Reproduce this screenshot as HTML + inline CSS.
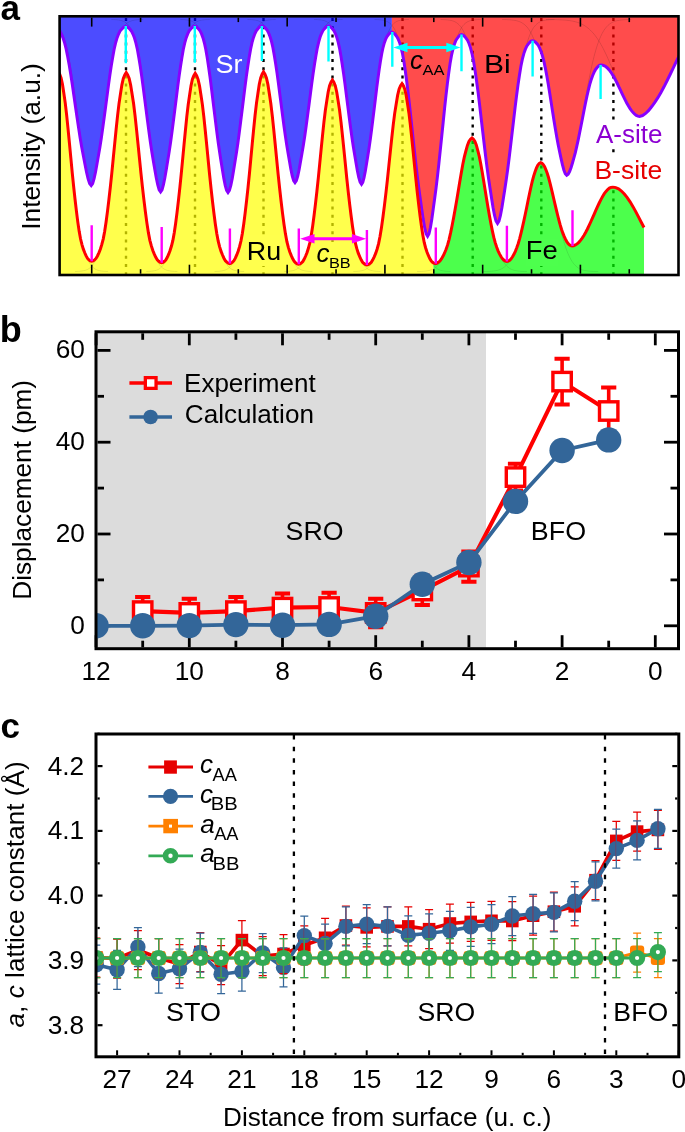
<!DOCTYPE html><html><head><meta charset="utf-8"><style>html,body{margin:0;padding:0;background:#fff;width:685px;height:1132px;overflow:hidden;position:relative}</style></head><body><svg width="685" height="1132" viewBox="0 0 685 1132" style="position:absolute;left:0;top:0;will-change:transform">
<defs><clipPath id="ca"><rect x="59.6" y="16.3" width="618.9" height="258.7"/></clipPath><clipPath id="cb"><rect x="96" y="331.8" width="582.5" height="316.9"/></clipPath><clipPath id="cc"><rect x="96" y="734" width="582.8" height="322.8"/></clipPath></defs>
<g clip-path="url(#ca)">
<line x1="126" y1="18" x2="126" y2="274" stroke="#000" stroke-width="2.4" stroke-dasharray="3 5.2"/>
<line x1="195" y1="18" x2="195" y2="274" stroke="#000" stroke-width="2.4" stroke-dasharray="3 5.2"/>
<line x1="263.5" y1="18" x2="263.5" y2="274" stroke="#000" stroke-width="2.4" stroke-dasharray="3 5.2"/>
<line x1="332.5" y1="18" x2="332.5" y2="274" stroke="#000" stroke-width="2.4" stroke-dasharray="3 5.2"/>
<line x1="402.5" y1="18" x2="402.5" y2="274" stroke="#000" stroke-width="2.4" stroke-dasharray="3 5.2"/>
<line x1="472.7" y1="18" x2="472.7" y2="274" stroke="#000" stroke-width="2.4" stroke-dasharray="3 5.2"/>
<line x1="541.3" y1="18" x2="541.3" y2="274" stroke="#000" stroke-width="2.4" stroke-dasharray="3 5.2"/>
<line x1="613.4" y1="18" x2="613.4" y2="274" stroke="#000" stroke-width="2.4" stroke-dasharray="3 5.2"/>
<path d="M18.00,196.00 L19.48,193.84 L20.96,188.62 L22.44,181.52 L23.92,172.98 L25.40,164.23 L26.88,155.29 L28.35,145.46 L29.83,134.77 L31.31,123.41 L32.79,111.94 L34.27,100.41 L35.75,88.70 L37.23,77.72 L38.71,67.63 L40.19,58.39 L41.67,50.04 L43.15,43.50 L44.62,38.37 L46.10,34.48 L47.58,31.48 L49.06,29.58 L50.54,27.99 L52.02,26.84 L53.50,26.40 L55.07,26.82 L56.64,27.90 L58.21,29.39 L59.78,31.16 L61.35,33.99 L62.92,37.64 L64.50,42.45 L66.07,48.59 L67.64,56.43 L69.21,65.10 L70.78,74.57 L72.35,84.88 L73.92,95.87 L75.49,106.69 L77.06,117.46 L78.63,128.13 L80.20,138.16 L81.78,147.39 L83.35,155.78 L84.92,163.99 L86.49,172.01 L88.06,178.67 L89.63,183.57 L91.20,185.60 L92.64,183.57 L94.08,178.67 L95.53,172.01 L96.97,163.99 L98.41,155.78 L99.85,147.39 L101.29,138.16 L102.73,128.13 L104.17,117.46 L105.62,106.69 L107.06,95.87 L108.50,84.88 L109.94,74.57 L111.38,65.10 L112.83,56.43 L114.27,48.59 L115.71,42.45 L117.15,37.64 L118.59,33.99 L120.03,31.16 L121.47,29.39 L122.92,27.90 L124.36,26.82 L125.80,26.40 L127.25,26.83 L128.70,27.95 L130.15,29.51 L131.60,31.35 L133.05,34.29 L134.50,38.08 L135.95,43.08 L137.40,49.47 L138.85,57.62 L140.30,66.63 L141.75,76.48 L143.20,87.19 L144.65,98.62 L146.10,109.87 L147.55,121.06 L149.00,132.15 L150.45,142.59 L151.90,152.18 L153.35,160.90 L154.80,169.44 L156.25,177.77 L157.70,184.70 L159.15,189.79 L160.60,191.90 L162.02,189.79 L163.44,184.69 L164.86,177.76 L166.28,169.41 L167.70,160.86 L169.12,152.13 L170.55,142.53 L171.97,132.08 L173.39,120.97 L174.81,109.77 L176.23,98.51 L177.65,87.06 L179.07,76.34 L180.49,66.48 L181.91,57.46 L183.33,49.29 L184.75,42.91 L186.17,37.90 L187.60,34.10 L189.02,31.16 L190.44,29.31 L191.86,27.76 L193.28,26.63 L194.70,26.20 L196.09,26.63 L197.47,27.76 L198.86,29.32 L200.25,31.18 L201.64,34.13 L203.02,37.95 L204.41,42.98 L205.80,49.39 L207.19,57.59 L208.57,66.65 L209.96,76.55 L211.35,87.32 L212.74,98.81 L214.12,110.12 L215.51,121.38 L216.90,132.53 L218.29,143.02 L219.68,152.66 L221.06,161.43 L222.45,170.01 L223.84,178.40 L225.22,185.36 L226.61,190.48 L228.00,192.60 L229.41,190.48 L230.82,185.34 L232.24,178.37 L233.65,169.97 L235.06,161.37 L236.47,152.59 L237.89,142.93 L239.30,132.42 L240.71,121.25 L242.12,109.97 L243.54,98.64 L244.95,87.13 L246.36,76.34 L247.77,66.43 L249.19,57.34 L250.60,49.13 L252.01,42.71 L253.42,37.67 L254.84,33.84 L256.25,30.89 L257.66,29.03 L259.07,27.47 L260.49,26.34 L261.90,25.90 L263.28,26.31 L264.66,27.37 L266.04,28.84 L267.42,30.59 L268.80,33.37 L270.17,36.96 L271.55,41.70 L272.93,47.74 L274.31,55.46 L275.69,63.99 L277.07,73.32 L278.45,83.46 L279.83,94.28 L281.21,104.93 L282.59,115.53 L283.97,126.03 L285.35,135.91 L286.73,144.99 L288.10,153.25 L289.48,161.33 L290.86,169.23 L292.24,175.78 L293.62,180.61 L295.00,182.60 L296.40,180.61 L297.79,175.78 L299.19,169.23 L300.58,161.34 L301.98,153.26 L303.38,145.01 L304.77,135.94 L306.17,126.06 L307.56,115.57 L308.96,104.98 L310.35,94.33 L311.75,83.52 L313.15,73.39 L314.54,64.07 L315.94,55.54 L317.33,47.82 L318.73,41.79 L320.12,37.05 L321.52,33.46 L322.92,30.69 L324.31,28.94 L325.71,27.47 L327.10,26.41 L328.50,26.00 L329.88,26.41 L331.25,27.49 L332.62,28.97 L334.00,30.73 L335.38,33.54 L336.75,37.17 L338.12,41.95 L339.50,48.05 L340.88,55.84 L342.25,64.46 L343.62,73.87 L345.00,84.11 L346.38,95.03 L347.75,105.79 L349.12,116.48 L350.50,127.09 L351.88,137.06 L353.25,146.23 L354.62,154.57 L356.00,162.73 L357.38,170.70 L358.75,177.31 L360.12,182.19 L361.50,184.20 L362.77,182.27 L364.03,177.58 L365.30,171.23 L366.57,163.57 L367.83,155.73 L369.10,147.72 L370.37,138.91 L371.63,129.32 L372.90,119.14 L374.17,108.86 L375.43,98.53 L376.70,88.03 L377.97,78.20 L379.23,69.15 L380.50,60.87 L381.77,53.38 L383.03,47.52 L384.30,42.93 L385.57,39.44 L386.83,36.75 L388.10,35.05 L389.37,33.63 L390.63,32.60 L391.90,32.20 L391.90,32.20 L391.9,0 L0,0 Z" fill="#0000ff" fill-opacity="0.7"/>
<path d="M391.90,32.20 L393.39,32.73 L394.88,34.12 L396.36,36.03 L397.85,38.31 L399.34,41.92 L400.82,46.61 L402.31,52.78 L403.80,60.64 L405.29,70.70 L406.77,81.82 L408.26,93.96 L409.75,107.17 L411.24,121.26 L412.73,135.13 L414.21,148.94 L415.70,162.62 L417.19,175.48 L418.68,187.31 L420.16,198.07 L421.65,208.60 L423.14,218.88 L424.62,227.41 L426.11,233.70 L427.60,236.30 L429.01,233.73 L430.43,227.52 L431.84,219.08 L433.25,208.91 L434.66,198.50 L436.08,187.87 L437.49,176.17 L438.90,163.45 L440.31,149.92 L441.73,136.27 L443.14,122.56 L444.55,108.62 L445.96,95.57 L447.38,83.56 L448.79,72.56 L450.20,62.62 L451.61,54.84 L453.02,48.75 L454.44,44.12 L455.85,40.54 L457.26,38.29 L458.68,36.40 L460.09,35.03 L461.50,34.50 L463.00,34.99 L464.50,36.27 L466.00,38.05 L467.50,40.15 L469.00,43.50 L470.50,47.83 L472.00,53.54 L473.50,60.83 L475.00,70.13 L476.50,80.42 L478.00,91.66 L479.50,103.89 L481.00,116.93 L482.50,129.77 L484.00,142.54 L485.50,155.20 L487.00,167.11 L488.50,178.06 L490.00,188.01 L491.50,197.76 L493.00,207.28 L494.50,215.18 L496.00,221.00 L497.50,223.40 L498.96,221.07 L500.43,215.45 L501.89,207.81 L503.35,198.60 L504.81,189.18 L506.27,179.55 L507.74,168.96 L509.20,157.44 L510.66,145.20 L512.12,132.84 L513.59,120.42 L515.05,107.81 L516.51,95.99 L517.98,85.12 L519.44,75.16 L520.90,66.16 L522.36,59.12 L523.83,53.60 L525.29,49.41 L526.75,46.17 L528.21,44.13 L529.68,42.42 L531.14,41.18 L532.60,40.70 L534.02,41.08 L535.44,42.11 L536.86,43.59 L538.28,45.43 L539.70,48.16 L541.12,51.63 L542.55,56.06 L543.97,61.54 L545.39,68.35 L546.81,75.82 L548.23,83.92 L549.65,92.64 L551.07,101.86 L552.49,110.94 L553.91,119.94 L555.33,128.80 L556.75,137.12 L558.18,144.76 L559.60,151.67 L561.02,158.33 L562.44,164.70 L563.86,169.94 L565.28,173.75 L566.70,175.30 L568.14,174.23 L569.58,171.55 L571.01,167.76 L572.45,163.05 L573.89,157.96 L575.33,152.52 L576.76,146.47 L578.20,139.86 L579.64,132.79 L581.08,125.55 L582.51,118.20 L583.95,110.73 L585.39,103.56 L586.83,96.81 L588.26,90.49 L589.70,84.68 L591.14,79.80 L592.58,75.71 L594.01,72.37 L595.45,69.68 L596.89,67.74 L598.33,66.24 L599.76,65.25 L601.20,64.90 L602.80,65.11 L604.39,65.74 L605.99,66.76 L607.58,68.15 L609.18,69.92 L610.78,72.03 L612.37,74.46 L613.97,77.18 L615.56,80.15 L617.16,83.30 L618.75,86.58 L620.35,89.94 L621.95,93.32 L623.54,96.64 L625.14,99.86 L626.73,102.93 L628.33,105.77 L629.92,108.35 L631.52,110.63 L633.12,112.58 L634.71,114.19 L636.31,115.38 L637.90,116.13 L639.50,116.40 L642.56,115.57 L645.62,113.45 L648.69,110.39 L651.75,106.54 L654.81,102.29 L657.88,97.66 L660.94,92.48 L664.00,86.81 L667.06,80.74 L670.12,74.49 L673.19,68.12 L676.25,61.64 L679.31,55.38 L682.38,49.42 L685.44,43.82 L688.50,38.63 L691.56,34.17 L694.62,30.37 L697.69,27.21 L700.75,24.63 L703.81,22.72 L706.88,21.26 L709.94,20.33 L713.00,20.00 L700,0 L391.9,0 Z" fill="#ff0000" fill-opacity="0.7"/>
<path d="M24.00,262.00 L25.43,261.58 L26.86,260.57 L28.29,259.13 L29.72,256.63 L31.15,253.45 L32.58,249.81 L34.00,245.25 L35.43,239.64 L36.86,231.94 L38.29,222.43 L39.72,211.46 L41.15,199.49 L42.58,186.66 L44.01,172.92 L45.44,158.24 L46.87,143.43 L48.30,129.06 L49.72,115.23 L51.15,103.19 L52.58,93.64 L54.01,84.34 L55.44,77.91 L56.87,74.25 L58.30,72.00 L59.69,74.24 L61.08,77.89 L62.47,84.30 L63.87,93.56 L65.26,103.08 L66.65,115.07 L68.04,128.85 L69.43,143.17 L70.83,157.93 L72.22,172.55 L73.61,186.24 L75.00,199.02 L76.39,210.94 L77.78,221.87 L79.17,231.35 L80.57,239.02 L81.96,244.61 L83.35,249.16 L84.74,252.78 L86.13,255.95 L87.53,258.44 L88.92,259.88 L90.31,260.88 L91.70,261.30 L93.14,260.88 L94.58,259.88 L96.01,258.45 L97.45,255.97 L98.89,252.81 L100.33,249.20 L101.76,244.67 L103.20,239.09 L104.64,231.44 L106.08,222.00 L107.51,211.10 L108.95,199.22 L110.39,186.47 L111.83,172.83 L113.26,158.25 L114.70,143.54 L116.14,129.27 L117.58,115.54 L119.01,103.58 L120.45,94.09 L121.89,84.86 L123.33,78.47 L124.76,74.84 L126.20,72.60 L127.68,74.85 L129.16,78.51 L130.64,84.95 L132.12,94.25 L133.60,103.81 L135.07,115.86 L136.55,129.69 L138.03,144.07 L139.51,158.89 L140.99,173.58 L142.47,187.32 L143.95,200.16 L145.43,212.13 L146.91,223.11 L148.39,232.62 L149.87,240.33 L151.35,245.94 L152.82,250.51 L154.30,254.14 L155.78,257.33 L157.26,259.83 L158.74,261.27 L160.22,262.28 L161.70,262.70 L163.10,262.28 L164.49,261.28 L165.89,259.84 L167.28,257.35 L168.68,254.18 L170.07,250.56 L171.47,246.01 L172.87,240.42 L174.26,232.75 L175.66,223.27 L177.05,212.34 L178.45,200.42 L179.85,187.64 L181.24,173.95 L182.64,159.33 L184.03,144.57 L185.43,130.25 L186.82,116.47 L188.22,104.48 L189.62,94.96 L191.01,85.70 L192.41,79.29 L193.80,75.64 L195.20,73.40 L196.64,75.65 L198.07,79.32 L199.51,85.76 L200.95,95.07 L202.39,104.62 L203.82,116.68 L205.26,130.52 L206.70,144.91 L208.14,159.73 L209.57,174.43 L211.01,188.18 L212.45,201.02 L213.89,213.00 L215.32,223.98 L216.76,233.50 L218.20,241.21 L219.64,246.83 L221.07,251.40 L222.51,255.04 L223.95,258.23 L225.39,260.73 L226.82,262.17 L228.26,263.18 L229.70,263.60 L231.11,263.17 L232.52,262.16 L233.92,260.71 L235.33,258.19 L236.74,254.97 L238.15,251.31 L239.56,246.70 L240.97,241.04 L242.38,233.27 L243.78,223.67 L245.19,212.61 L246.60,200.53 L248.01,187.58 L249.42,173.73 L250.82,158.92 L252.23,143.97 L253.64,129.47 L255.05,115.52 L256.46,103.37 L257.87,93.74 L259.27,84.35 L260.68,77.86 L262.09,74.17 L263.50,71.90 L264.96,74.18 L266.43,77.89 L267.89,84.40 L269.35,93.82 L270.81,103.49 L272.27,115.68 L273.74,129.68 L275.20,144.24 L276.66,159.23 L278.12,174.10 L279.59,188.01 L281.05,201.00 L282.51,213.12 L283.98,224.23 L285.44,233.86 L286.90,241.66 L288.36,247.34 L289.83,251.96 L291.29,255.64 L292.75,258.87 L294.21,261.40 L295.68,262.86 L297.14,263.87 L298.60,264.30 L300.01,263.89 L301.42,262.92 L302.83,261.52 L304.23,259.09 L305.64,256.00 L307.05,252.48 L308.46,248.05 L309.87,242.61 L311.27,235.14 L312.68,225.91 L314.09,215.27 L315.50,203.67 L316.91,191.22 L318.32,177.90 L319.73,163.66 L321.13,149.29 L322.54,135.35 L323.95,121.94 L325.36,110.26 L326.77,100.99 L328.17,91.97 L329.58,85.73 L330.99,82.18 L332.40,80.00 L333.84,82.19 L335.27,85.76 L336.71,92.02 L338.15,101.07 L339.59,110.37 L341.02,122.09 L342.46,135.56 L343.90,149.55 L345.34,163.97 L346.77,178.27 L348.21,191.64 L349.65,204.13 L351.09,215.79 L352.52,226.47 L353.96,235.73 L355.40,243.23 L356.84,248.69 L358.27,253.14 L359.71,256.67 L361.15,259.77 L362.59,262.21 L364.02,263.61 L365.46,264.59 L366.90,265.00 L368.36,264.60 L369.82,263.64 L371.29,262.26 L372.75,259.88 L374.21,256.84 L375.67,253.37 L377.14,249.01 L378.60,243.65 L380.06,236.30 L381.52,227.22 L382.99,216.75 L384.45,205.32 L385.91,193.07 L387.38,179.96 L388.84,165.94 L390.30,151.80 L391.76,138.08 L393.23,124.88 L394.69,113.38 L396.15,104.26 L397.61,95.39 L399.07,89.24 L400.54,85.75 L402.00,83.60 L403.39,85.73 L404.77,89.20 L406.16,95.29 L407.55,104.10 L408.94,113.15 L410.32,124.56 L411.71,137.66 L413.10,151.27 L414.49,165.31 L415.88,179.21 L417.26,192.22 L418.65,204.38 L420.04,215.72 L421.43,226.11 L422.81,235.12 L424.20,242.41 L425.59,247.73 L426.98,252.06 L428.36,255.50 L429.75,258.52 L431.14,260.88 L432.53,262.25 L433.40,262.85 L433.4,300 L0,300 Z" fill="#ffff00" fill-opacity="0.7"/>
<path d="M433.40,262.85 L433.91,263.20 L435.30,263.60 L436.83,263.26 L438.36,262.39 L439.89,261.07 L441.42,258.97 L442.95,256.32 L444.48,253.25 L446.00,249.53 L447.53,245.13 L449.06,239.53 L450.59,232.92 L452.12,225.49 L453.65,217.51 L455.18,209.09 L456.71,200.24 L458.24,190.96 L459.77,181.71 L461.30,172.80 L462.82,164.32 L464.35,156.92 L465.88,151.00 L467.41,145.41 L468.94,141.52 L470.47,139.28 L472.00,138.00 L473.45,139.24 L474.91,141.42 L476.36,145.21 L477.82,150.66 L479.27,156.44 L480.73,163.66 L482.18,171.93 L483.63,180.64 L485.09,189.68 L486.54,198.76 L488.00,207.43 L489.45,215.70 L490.90,223.54 L492.36,230.85 L493.81,237.39 L495.27,242.93 L496.72,247.32 L498.17,251.03 L499.63,254.11 L501.08,256.76 L502.54,258.85 L503.99,260.19 L505.45,261.06 L506.90,261.40 L508.31,261.09 L509.72,260.22 L511.12,258.85 L512.53,256.83 L513.94,254.27 L515.35,251.28 L516.76,247.75 L518.17,243.69 L519.58,238.86 L520.98,233.37 L522.39,227.38 L523.80,221.06 L525.21,214.50 L526.62,207.74 L528.02,200.82 L529.43,194.01 L530.84,187.52 L532.25,181.43 L533.66,176.10 L535.07,171.78 L536.48,167.87 L537.88,165.12 L539.29,163.52 L540.70,162.70 L542.00,163.30 L543.31,164.58 L544.61,166.75 L545.92,169.81 L547.22,173.28 L548.53,177.53 L549.83,182.40 L551.13,187.62 L552.44,193.13 L553.74,198.78 L555.05,204.38 L556.35,209.89 L557.65,215.24 L558.96,220.37 L560.26,225.13 L561.57,229.42 L562.87,233.14 L564.17,236.41 L565.48,239.21 L566.78,241.59 L568.09,243.48 L569.39,244.79 L570.70,245.61 L572.00,245.90 L573.70,245.67 L575.40,244.99 L577.10,243.89 L578.80,242.35 L580.50,240.40 L582.20,238.11 L583.90,235.47 L585.60,232.51 L587.30,229.24 L589.00,225.71 L590.70,222.00 L592.40,218.18 L594.10,214.31 L595.80,210.45 L597.50,206.65 L599.20,203.00 L600.90,199.58 L602.60,196.45 L604.30,193.70 L606.00,191.42 L607.70,189.51 L609.40,188.15 L611.10,187.33 L612.80,187.00 L615.68,187.60 L618.57,188.87 L621.45,191.03 L624.33,194.08 L627.22,197.55 L630.10,201.79 L632.98,206.63 L635.87,211.84 L638.75,217.33 L641.63,222.97 L644.00,227.56 L644,300 L433.4,300 Z" fill="#00ff00" fill-opacity="0.7"/>
<clipPath id="clA"><path d="M18.00,196.00 L19.48,193.84 L20.96,188.62 L22.44,181.52 L23.92,172.98 L25.40,164.23 L26.88,155.29 L28.35,145.46 L29.83,134.77 L31.31,123.41 L32.79,111.94 L34.27,100.41 L35.75,88.70 L37.23,77.72 L38.71,67.63 L40.19,58.39 L41.67,50.04 L43.15,43.50 L44.62,38.37 L46.10,34.48 L47.58,31.48 L49.06,29.58 L50.54,27.99 L52.02,26.84 L53.50,26.40 L55.07,26.82 L56.64,27.90 L58.21,29.39 L59.78,31.16 L61.35,33.99 L62.92,37.64 L64.50,42.45 L66.07,48.59 L67.64,56.43 L69.21,65.10 L70.78,74.57 L72.35,84.88 L73.92,95.87 L75.49,106.69 L77.06,117.46 L78.63,128.13 L80.20,138.16 L81.78,147.39 L83.35,155.78 L84.92,163.99 L86.49,172.01 L88.06,178.67 L89.63,183.57 L91.20,185.60 L92.64,183.57 L94.08,178.67 L95.53,172.01 L96.97,163.99 L98.41,155.78 L99.85,147.39 L101.29,138.16 L102.73,128.13 L104.17,117.46 L105.62,106.69 L107.06,95.87 L108.50,84.88 L109.94,74.57 L111.38,65.10 L112.83,56.43 L114.27,48.59 L115.71,42.45 L117.15,37.64 L118.59,33.99 L120.03,31.16 L121.47,29.39 L122.92,27.90 L124.36,26.82 L125.80,26.40 L127.25,26.83 L128.70,27.95 L130.15,29.51 L131.60,31.35 L133.05,34.29 L134.50,38.08 L135.95,43.08 L137.40,49.47 L138.85,57.62 L140.30,66.63 L141.75,76.48 L143.20,87.19 L144.65,98.62 L146.10,109.87 L147.55,121.06 L149.00,132.15 L150.45,142.59 L151.90,152.18 L153.35,160.90 L154.80,169.44 L156.25,177.77 L157.70,184.70 L159.15,189.79 L160.60,191.90 L162.02,189.79 L163.44,184.69 L164.86,177.76 L166.28,169.41 L167.70,160.86 L169.12,152.13 L170.55,142.53 L171.97,132.08 L173.39,120.97 L174.81,109.77 L176.23,98.51 L177.65,87.06 L179.07,76.34 L180.49,66.48 L181.91,57.46 L183.33,49.29 L184.75,42.91 L186.17,37.90 L187.60,34.10 L189.02,31.16 L190.44,29.31 L191.86,27.76 L193.28,26.63 L194.70,26.20 L196.09,26.63 L197.47,27.76 L198.86,29.32 L200.25,31.18 L201.64,34.13 L203.02,37.95 L204.41,42.98 L205.80,49.39 L207.19,57.59 L208.57,66.65 L209.96,76.55 L211.35,87.32 L212.74,98.81 L214.12,110.12 L215.51,121.38 L216.90,132.53 L218.29,143.02 L219.68,152.66 L221.06,161.43 L222.45,170.01 L223.84,178.40 L225.22,185.36 L226.61,190.48 L228.00,192.60 L229.41,190.48 L230.82,185.34 L232.24,178.37 L233.65,169.97 L235.06,161.37 L236.47,152.59 L237.89,142.93 L239.30,132.42 L240.71,121.25 L242.12,109.97 L243.54,98.64 L244.95,87.13 L246.36,76.34 L247.77,66.43 L249.19,57.34 L250.60,49.13 L252.01,42.71 L253.42,37.67 L254.84,33.84 L256.25,30.89 L257.66,29.03 L259.07,27.47 L260.49,26.34 L261.90,25.90 L263.28,26.31 L264.66,27.37 L266.04,28.84 L267.42,30.59 L268.80,33.37 L270.17,36.96 L271.55,41.70 L272.93,47.74 L274.31,55.46 L275.69,63.99 L277.07,73.32 L278.45,83.46 L279.83,94.28 L281.21,104.93 L282.59,115.53 L283.97,126.03 L285.35,135.91 L286.73,144.99 L288.10,153.25 L289.48,161.33 L290.86,169.23 L292.24,175.78 L293.62,180.61 L295.00,182.60 L296.40,180.61 L297.79,175.78 L299.19,169.23 L300.58,161.34 L301.98,153.26 L303.38,145.01 L304.77,135.94 L306.17,126.06 L307.56,115.57 L308.96,104.98 L310.35,94.33 L311.75,83.52 L313.15,73.39 L314.54,64.07 L315.94,55.54 L317.33,47.82 L318.73,41.79 L320.12,37.05 L321.52,33.46 L322.92,30.69 L324.31,28.94 L325.71,27.47 L327.10,26.41 L328.50,26.00 L329.88,26.41 L331.25,27.49 L332.62,28.97 L334.00,30.73 L335.38,33.54 L336.75,37.17 L338.12,41.95 L339.50,48.05 L340.88,55.84 L342.25,64.46 L343.62,73.87 L345.00,84.11 L346.38,95.03 L347.75,105.79 L349.12,116.48 L350.50,127.09 L351.88,137.06 L353.25,146.23 L354.62,154.57 L356.00,162.73 L357.38,170.70 L358.75,177.31 L360.12,182.19 L361.50,184.20 L362.77,182.27 L364.03,177.58 L365.30,171.23 L366.57,163.57 L367.83,155.73 L369.10,147.72 L370.37,138.91 L371.63,129.32 L372.90,119.14 L374.17,108.86 L375.43,98.53 L376.70,88.03 L377.97,78.20 L379.23,69.15 L380.50,60.87 L381.77,53.38 L383.03,47.52 L384.30,42.93 L385.57,39.44 L386.83,36.75 L388.10,35.05 L389.37,33.63 L390.63,32.60 L391.90,32.20 L393.39,32.73 L394.88,34.12 L396.36,36.03 L397.85,38.31 L399.34,41.92 L400.82,46.61 L402.31,52.78 L403.80,60.64 L405.29,70.70 L406.77,81.82 L408.26,93.96 L409.75,107.17 L411.24,121.26 L412.73,135.13 L414.21,148.94 L415.70,162.62 L417.19,175.48 L418.68,187.31 L420.16,198.07 L421.65,208.60 L423.14,218.88 L424.62,227.41 L426.11,233.70 L427.60,236.30 L429.01,233.73 L430.43,227.52 L431.84,219.08 L433.25,208.91 L434.66,198.50 L436.08,187.87 L437.49,176.17 L438.90,163.45 L440.31,149.92 L441.73,136.27 L443.14,122.56 L444.55,108.62 L445.96,95.57 L447.38,83.56 L448.79,72.56 L450.20,62.62 L451.61,54.84 L453.02,48.75 L454.44,44.12 L455.85,40.54 L457.26,38.29 L458.68,36.40 L460.09,35.03 L461.50,34.50 L463.00,34.99 L464.50,36.27 L466.00,38.05 L467.50,40.15 L469.00,43.50 L470.50,47.83 L472.00,53.54 L473.50,60.83 L475.00,70.13 L476.50,80.42 L478.00,91.66 L479.50,103.89 L481.00,116.93 L482.50,129.77 L484.00,142.54 L485.50,155.20 L487.00,167.11 L488.50,178.06 L490.00,188.01 L491.50,197.76 L493.00,207.28 L494.50,215.18 L496.00,221.00 L497.50,223.40 L498.96,221.07 L500.43,215.45 L501.89,207.81 L503.35,198.60 L504.81,189.18 L506.27,179.55 L507.74,168.96 L509.20,157.44 L510.66,145.20 L512.12,132.84 L513.59,120.42 L515.05,107.81 L516.51,95.99 L517.98,85.12 L519.44,75.16 L520.90,66.16 L522.36,59.12 L523.83,53.60 L525.29,49.41 L526.75,46.17 L528.21,44.13 L529.68,42.42 L531.14,41.18 L532.60,40.70 L534.02,41.08 L535.44,42.11 L536.86,43.59 L538.28,45.43 L539.70,48.16 L541.12,51.63 L542.55,56.06 L543.97,61.54 L545.39,68.35 L546.81,75.82 L548.23,83.92 L549.65,92.64 L551.07,101.86 L552.49,110.94 L553.91,119.94 L555.33,128.80 L556.75,137.12 L558.18,144.76 L559.60,151.67 L561.02,158.33 L562.44,164.70 L563.86,169.94 L565.28,173.75 L566.70,175.30 L568.14,174.23 L569.58,171.55 L571.01,167.76 L572.45,163.05 L573.89,157.96 L575.33,152.52 L576.76,146.47 L578.20,139.86 L579.64,132.79 L581.08,125.55 L582.51,118.20 L583.95,110.73 L585.39,103.56 L586.83,96.81 L588.26,90.49 L589.70,84.68 L591.14,79.80 L592.58,75.71 L594.01,72.37 L595.45,69.68 L596.89,67.74 L598.33,66.24 L599.76,65.25 L601.20,64.90 L602.80,65.11 L604.39,65.74 L605.99,66.76 L607.58,68.15 L609.18,69.92 L610.78,72.03 L612.37,74.46 L613.97,77.18 L615.56,80.15 L617.16,83.30 L618.75,86.58 L620.35,89.94 L621.95,93.32 L623.54,96.64 L625.14,99.86 L626.73,102.93 L628.33,105.77 L629.92,108.35 L631.52,110.63 L633.12,112.58 L634.71,114.19 L636.31,115.38 L637.90,116.13 L639.50,116.40 L642.56,115.57 L645.62,113.45 L648.69,110.39 L651.75,106.54 L654.81,102.29 L657.88,97.66 L660.94,92.48 L664.00,86.81 L667.06,80.74 L670.12,74.49 L673.19,68.12 L676.25,61.64 L679.31,55.38 L682.38,49.42 L685.44,43.82 L688.50,38.63 L691.56,34.17 L694.62,30.37 L697.69,27.21 L700.75,24.63 L703.81,22.72 L706.88,21.26 L709.94,20.33 L713.00,20.00 L700,0 L0,0 Z"/></clipPath>
<clipPath id="clB"><path d="M24.00,262.00 L25.43,261.58 L26.86,260.57 L28.29,259.13 L29.72,256.63 L31.15,253.45 L32.58,249.81 L34.00,245.25 L35.43,239.64 L36.86,231.94 L38.29,222.43 L39.72,211.46 L41.15,199.49 L42.58,186.66 L44.01,172.92 L45.44,158.24 L46.87,143.43 L48.30,129.06 L49.72,115.23 L51.15,103.19 L52.58,93.64 L54.01,84.34 L55.44,77.91 L56.87,74.25 L58.30,72.00 L59.69,74.24 L61.08,77.89 L62.47,84.30 L63.87,93.56 L65.26,103.08 L66.65,115.07 L68.04,128.85 L69.43,143.17 L70.83,157.93 L72.22,172.55 L73.61,186.24 L75.00,199.02 L76.39,210.94 L77.78,221.87 L79.17,231.35 L80.57,239.02 L81.96,244.61 L83.35,249.16 L84.74,252.78 L86.13,255.95 L87.53,258.44 L88.92,259.88 L90.31,260.88 L91.70,261.30 L93.14,260.88 L94.58,259.88 L96.01,258.45 L97.45,255.97 L98.89,252.81 L100.33,249.20 L101.76,244.67 L103.20,239.09 L104.64,231.44 L106.08,222.00 L107.51,211.10 L108.95,199.22 L110.39,186.47 L111.83,172.83 L113.26,158.25 L114.70,143.54 L116.14,129.27 L117.58,115.54 L119.01,103.58 L120.45,94.09 L121.89,84.86 L123.33,78.47 L124.76,74.84 L126.20,72.60 L127.68,74.85 L129.16,78.51 L130.64,84.95 L132.12,94.25 L133.60,103.81 L135.07,115.86 L136.55,129.69 L138.03,144.07 L139.51,158.89 L140.99,173.58 L142.47,187.32 L143.95,200.16 L145.43,212.13 L146.91,223.11 L148.39,232.62 L149.87,240.33 L151.35,245.94 L152.82,250.51 L154.30,254.14 L155.78,257.33 L157.26,259.83 L158.74,261.27 L160.22,262.28 L161.70,262.70 L163.10,262.28 L164.49,261.28 L165.89,259.84 L167.28,257.35 L168.68,254.18 L170.07,250.56 L171.47,246.01 L172.87,240.42 L174.26,232.75 L175.66,223.27 L177.05,212.34 L178.45,200.42 L179.85,187.64 L181.24,173.95 L182.64,159.33 L184.03,144.57 L185.43,130.25 L186.82,116.47 L188.22,104.48 L189.62,94.96 L191.01,85.70 L192.41,79.29 L193.80,75.64 L195.20,73.40 L196.64,75.65 L198.07,79.32 L199.51,85.76 L200.95,95.07 L202.39,104.62 L203.82,116.68 L205.26,130.52 L206.70,144.91 L208.14,159.73 L209.57,174.43 L211.01,188.18 L212.45,201.02 L213.89,213.00 L215.32,223.98 L216.76,233.50 L218.20,241.21 L219.64,246.83 L221.07,251.40 L222.51,255.04 L223.95,258.23 L225.39,260.73 L226.82,262.17 L228.26,263.18 L229.70,263.60 L231.11,263.17 L232.52,262.16 L233.92,260.71 L235.33,258.19 L236.74,254.97 L238.15,251.31 L239.56,246.70 L240.97,241.04 L242.38,233.27 L243.78,223.67 L245.19,212.61 L246.60,200.53 L248.01,187.58 L249.42,173.73 L250.82,158.92 L252.23,143.97 L253.64,129.47 L255.05,115.52 L256.46,103.37 L257.87,93.74 L259.27,84.35 L260.68,77.86 L262.09,74.17 L263.50,71.90 L264.96,74.18 L266.43,77.89 L267.89,84.40 L269.35,93.82 L270.81,103.49 L272.27,115.68 L273.74,129.68 L275.20,144.24 L276.66,159.23 L278.12,174.10 L279.59,188.01 L281.05,201.00 L282.51,213.12 L283.98,224.23 L285.44,233.86 L286.90,241.66 L288.36,247.34 L289.83,251.96 L291.29,255.64 L292.75,258.87 L294.21,261.40 L295.68,262.86 L297.14,263.87 L298.60,264.30 L300.01,263.89 L301.42,262.92 L302.83,261.52 L304.23,259.09 L305.64,256.00 L307.05,252.48 L308.46,248.05 L309.87,242.61 L311.27,235.14 L312.68,225.91 L314.09,215.27 L315.50,203.67 L316.91,191.22 L318.32,177.90 L319.73,163.66 L321.13,149.29 L322.54,135.35 L323.95,121.94 L325.36,110.26 L326.77,100.99 L328.17,91.97 L329.58,85.73 L330.99,82.18 L332.40,80.00 L333.84,82.19 L335.27,85.76 L336.71,92.02 L338.15,101.07 L339.59,110.37 L341.02,122.09 L342.46,135.56 L343.90,149.55 L345.34,163.97 L346.77,178.27 L348.21,191.64 L349.65,204.13 L351.09,215.79 L352.52,226.47 L353.96,235.73 L355.40,243.23 L356.84,248.69 L358.27,253.14 L359.71,256.67 L361.15,259.77 L362.59,262.21 L364.02,263.61 L365.46,264.59 L366.90,265.00 L368.36,264.60 L369.82,263.64 L371.29,262.26 L372.75,259.88 L374.21,256.84 L375.67,253.37 L377.14,249.01 L378.60,243.65 L380.06,236.30 L381.52,227.22 L382.99,216.75 L384.45,205.32 L385.91,193.07 L387.38,179.96 L388.84,165.94 L390.30,151.80 L391.76,138.08 L393.23,124.88 L394.69,113.38 L396.15,104.26 L397.61,95.39 L399.07,89.24 L400.54,85.75 L402.00,83.60 L403.39,85.73 L404.77,89.20 L406.16,95.29 L407.55,104.10 L408.94,113.15 L410.32,124.56 L411.71,137.66 L413.10,151.27 L414.49,165.31 L415.88,179.21 L417.26,192.22 L418.65,204.38 L420.04,215.72 L421.43,226.11 L422.81,235.12 L424.20,242.41 L425.59,247.73 L426.98,252.06 L428.36,255.50 L429.75,258.52 L431.14,260.88 L432.53,262.25 L433.91,263.20 L435.30,263.60 L436.83,263.26 L438.36,262.39 L439.89,261.07 L441.42,258.97 L442.95,256.32 L444.48,253.25 L446.00,249.53 L447.53,245.13 L449.06,239.53 L450.59,232.92 L452.12,225.49 L453.65,217.51 L455.18,209.09 L456.71,200.24 L458.24,190.96 L459.77,181.71 L461.30,172.80 L462.82,164.32 L464.35,156.92 L465.88,151.00 L467.41,145.41 L468.94,141.52 L470.47,139.28 L472.00,138.00 L473.45,139.24 L474.91,141.42 L476.36,145.21 L477.82,150.66 L479.27,156.44 L480.73,163.66 L482.18,171.93 L483.63,180.64 L485.09,189.68 L486.54,198.76 L488.00,207.43 L489.45,215.70 L490.90,223.54 L492.36,230.85 L493.81,237.39 L495.27,242.93 L496.72,247.32 L498.17,251.03 L499.63,254.11 L501.08,256.76 L502.54,258.85 L503.99,260.19 L505.45,261.06 L506.90,261.40 L508.31,261.09 L509.72,260.22 L511.12,258.85 L512.53,256.83 L513.94,254.27 L515.35,251.28 L516.76,247.75 L518.17,243.69 L519.58,238.86 L520.98,233.37 L522.39,227.38 L523.80,221.06 L525.21,214.50 L526.62,207.74 L528.02,200.82 L529.43,194.01 L530.84,187.52 L532.25,181.43 L533.66,176.10 L535.07,171.78 L536.48,167.87 L537.88,165.12 L539.29,163.52 L540.70,162.70 L542.00,163.30 L543.31,164.58 L544.61,166.75 L545.92,169.81 L547.22,173.28 L548.53,177.53 L549.83,182.40 L551.13,187.62 L552.44,193.13 L553.74,198.78 L555.05,204.38 L556.35,209.89 L557.65,215.24 L558.96,220.37 L560.26,225.13 L561.57,229.42 L562.87,233.14 L564.17,236.41 L565.48,239.21 L566.78,241.59 L568.09,243.48 L569.39,244.79 L570.70,245.61 L572.00,245.90 L573.70,245.67 L575.40,244.99 L577.10,243.89 L578.80,242.35 L580.50,240.40 L582.20,238.11 L583.90,235.47 L585.60,232.51 L587.30,229.24 L589.00,225.71 L590.70,222.00 L592.40,218.18 L594.10,214.31 L595.80,210.45 L597.50,206.65 L599.20,203.00 L600.90,199.58 L602.60,196.45 L604.30,193.70 L606.00,191.42 L607.70,189.51 L609.40,188.15 L611.10,187.33 L612.80,187.00 L615.68,187.60 L618.57,188.87 L621.45,191.03 L624.33,194.08 L627.22,197.55 L630.10,201.79 L632.98,206.63 L635.87,211.84 L638.75,217.33 L641.63,222.97 L644.00,227.56 L644,300 L0,300 Z"/></clipPath>
<g clip-path="url(#clA)">
<path d="M39.25,19.56 L39.90,19.57 L40.55,19.58 L41.20,19.60 L41.85,19.62 L42.50,19.65 L43.15,19.68 L43.80,19.71 L44.45,19.75 L45.10,19.80 L45.75,19.86 L46.40,19.93 L47.04,20.01 L47.69,20.11 L48.34,20.22 L48.99,20.34 L49.64,20.49 L50.29,20.66 L50.94,20.86 L51.59,21.09 L52.24,21.35 L52.89,21.64 L53.54,21.98 L54.19,22.36 L54.84,22.80 L55.49,23.29 L56.14,23.84 L56.79,24.46 L57.43,25.16 L58.08,25.93 L58.73,26.80 L59.38,27.76 L60.03,28.82 L60.68,30.00 L61.33,31.29 L61.98,32.71 L62.63,34.27 L63.28,35.97 L63.93,37.81 L64.58,39.81 L65.23,41.98 L65.88,44.31 L66.53,46.82 L67.17,49.50 L67.82,52.37 L68.47,55.42 L69.12,58.66 L69.77,62.08 L70.42,65.68 L71.07,69.47 L71.72,73.42 L72.37,77.55 L73.02,81.84 L73.67,86.28 L74.32,90.85 L74.97,95.55 L75.62,100.35 L76.27,105.24 L76.91,110.20 L77.56,115.21 L78.21,120.24 L78.86,125.28 L79.51,130.28 L80.16,135.24 L80.81,140.11 L81.46,144.88 L82.11,149.51 L82.76,153.97 L83.41,158.24 L84.06,162.29 L84.71,166.08 L85.36,169.61 L86.01,172.83 L86.65,175.73 L87.30,178.29 L87.95,180.49 L88.60,182.31 L89.25,183.74 L89.90,184.77 L90.55,185.39 L91.20,185.60 L91.85,185.39 L92.50,184.77 L93.15,183.74 L93.80,182.31 L94.45,180.49 L95.10,178.29 L95.75,175.73 L96.39,172.83 L97.04,169.61 L97.69,166.08 L98.34,162.29 L98.99,158.24 L99.64,153.97 L100.29,149.51 L100.94,144.88 L101.59,140.11 L102.24,135.24 L102.89,130.28 L103.54,125.28 L104.19,120.24 L104.84,115.21 L105.49,110.20 L106.13,105.24 L106.78,100.35 L107.43,95.55 L108.08,90.85 L108.73,86.28 L109.38,81.84 L110.03,77.55 L110.68,73.42 L111.33,69.47 L111.98,65.68 L112.63,62.08 L113.28,58.66 L113.93,55.42 L114.58,52.37 L115.23,49.50 L115.87,46.82 L116.52,44.31 L117.17,41.98 L117.82,39.81 L118.47,37.81 L119.12,35.97 L119.77,34.27 L120.42,32.71 L121.07,31.29 L121.72,30.00 L122.37,28.82 L123.02,27.76 L123.67,26.80 L124.32,25.93 L124.97,25.16 L125.61,24.46 L126.26,23.84 L126.91,23.29 L127.56,22.80 L128.21,22.36 L128.86,21.98 L129.51,21.64 L130.16,21.35 L130.81,21.09 L131.46,20.86 L132.11,20.66 L132.76,20.49 L133.41,20.34 L134.06,20.22 L134.71,20.11 L135.36,20.01 L136.00,19.93 L136.65,19.86 L137.30,19.80 L137.95,19.75 L138.60,19.71 L139.25,19.68 L139.90,19.65 L140.55,19.62 L141.20,19.60 L141.85,19.58 L142.50,19.57 L143.15,19.56" fill="none" stroke="#000" stroke-opacity="0.13" stroke-width="1"/>
<path d="M111.42,19.56 L112.04,19.57 L112.65,19.59 L113.27,19.60 L113.88,19.63 L114.50,19.65 L115.11,19.68 L115.73,19.72 L116.34,19.76 L116.96,19.82 L117.57,19.88 L118.18,19.95 L118.80,20.03 L119.41,20.13 L120.03,20.24 L120.64,20.38 L121.26,20.53 L121.87,20.71 L122.49,20.91 L123.10,21.15 L123.72,21.42 L124.33,21.72 L124.95,22.07 L125.56,22.47 L126.18,22.92 L126.79,23.43 L127.41,24.00 L128.02,24.65 L128.64,25.37 L129.25,26.18 L129.86,27.07 L130.48,28.07 L131.09,29.18 L131.71,30.40 L132.32,31.74 L132.94,33.22 L133.55,34.83 L134.17,36.59 L134.78,38.51 L135.40,40.59 L136.01,42.83 L136.63,45.25 L137.24,47.86 L137.86,50.64 L138.47,53.62 L139.09,56.78 L139.70,60.14 L140.31,63.69 L140.93,67.43 L141.54,71.36 L142.16,75.47 L142.77,79.75 L143.39,84.20 L144.00,88.81 L144.62,93.56 L145.23,98.43 L145.85,103.42 L146.46,108.49 L147.08,113.64 L147.69,118.84 L148.31,124.07 L148.92,129.29 L149.54,134.49 L150.15,139.63 L150.76,144.69 L151.38,149.63 L151.99,154.44 L152.61,159.07 L153.22,163.50 L153.84,167.70 L154.45,171.64 L155.07,175.30 L155.68,178.65 L156.30,181.66 L156.91,184.31 L157.53,186.60 L158.14,188.49 L158.76,189.97 L159.37,191.04 L159.99,191.68 L160.60,191.90 L161.21,191.68 L161.83,191.04 L162.44,189.97 L163.06,188.49 L163.67,186.60 L164.29,184.31 L164.90,181.66 L165.52,178.65 L166.13,175.30 L166.75,171.64 L167.36,167.70 L167.98,163.50 L168.59,159.07 L169.21,154.44 L169.82,149.63 L170.44,144.69 L171.05,139.63 L171.66,134.49 L172.28,129.29 L172.89,124.07 L173.51,118.84 L174.12,113.64 L174.74,108.49 L175.35,103.42 L175.97,98.43 L176.58,93.56 L177.20,88.81 L177.81,84.20 L178.43,79.75 L179.04,75.47 L179.66,71.36 L180.27,67.43 L180.89,63.69 L181.50,60.14 L182.11,56.78 L182.73,53.62 L183.34,50.64 L183.96,47.86 L184.57,45.25 L185.19,42.83 L185.80,40.59 L186.42,38.51 L187.03,36.59 L187.65,34.83 L188.26,33.22 L188.88,31.74 L189.49,30.40 L190.11,29.18 L190.72,28.07 L191.34,27.07 L191.95,26.18 L192.56,25.37 L193.18,24.65 L193.79,24.00 L194.41,23.43 L195.02,22.92 L195.64,22.47 L196.25,22.07 L196.87,21.72 L197.48,21.42 L198.10,21.15 L198.71,20.91 L199.33,20.71 L199.94,20.53 L200.56,20.38 L201.17,20.24 L201.79,20.13 L202.40,20.03 L203.02,19.95 L203.63,19.88 L204.24,19.82 L204.86,19.76 L205.47,19.72 L206.09,19.68 L206.70,19.65 L207.32,19.63 L207.93,19.60 L208.55,19.59 L209.16,19.57 L209.78,19.56" fill="none" stroke="#000" stroke-opacity="0.13" stroke-width="1"/>
<path d="M180.29,19.56 L180.89,19.57 L181.48,19.59 L182.08,19.60 L182.68,19.63 L183.27,19.65 L183.87,19.68 L184.47,19.72 L185.06,19.77 L185.66,19.82 L186.25,19.88 L186.85,19.95 L187.45,20.03 L188.04,20.13 L188.64,20.25 L189.24,20.38 L189.83,20.53 L190.43,20.71 L191.03,20.92 L191.62,21.15 L192.22,21.42 L192.81,21.73 L193.41,22.08 L194.01,22.48 L194.60,22.93 L195.20,23.45 L195.80,24.02 L196.39,24.67 L196.99,25.39 L197.59,26.20 L198.18,27.11 L198.78,28.11 L199.37,29.22 L199.97,30.44 L200.57,31.79 L201.16,33.27 L201.76,34.89 L202.36,36.66 L202.95,38.58 L203.55,40.67 L204.15,42.93 L204.74,45.36 L205.34,47.97 L205.93,50.77 L206.53,53.76 L207.13,56.94 L207.72,60.31 L208.32,63.87 L208.92,67.63 L209.51,71.57 L210.11,75.70 L210.71,80.00 L211.30,84.47 L211.90,89.09 L212.49,93.86 L213.09,98.75 L213.69,103.76 L214.28,108.86 L214.88,114.03 L215.48,119.25 L216.07,124.49 L216.67,129.74 L217.27,134.95 L217.86,140.12 L218.46,145.20 L219.05,150.16 L219.65,154.99 L220.25,159.64 L220.84,164.09 L221.44,168.30 L222.04,172.26 L222.63,175.93 L223.23,179.29 L223.83,182.32 L224.42,184.98 L225.02,187.27 L225.61,189.17 L226.21,190.66 L226.81,191.74 L227.40,192.38 L228.00,192.60 L228.60,192.38 L229.19,191.74 L229.79,190.66 L230.39,189.17 L230.98,187.27 L231.58,184.98 L232.17,182.32 L232.77,179.29 L233.37,175.93 L233.96,172.26 L234.56,168.30 L235.16,164.09 L235.75,159.64 L236.35,154.99 L236.95,150.16 L237.54,145.20 L238.14,140.12 L238.73,134.95 L239.33,129.74 L239.93,124.49 L240.52,119.25 L241.12,114.03 L241.72,108.86 L242.31,103.76 L242.91,98.75 L243.51,93.86 L244.10,89.09 L244.70,84.47 L245.29,80.00 L245.89,75.70 L246.49,71.57 L247.08,67.63 L247.68,63.87 L248.28,60.31 L248.87,56.94 L249.47,53.76 L250.07,50.77 L250.66,47.97 L251.26,45.36 L251.85,42.93 L252.45,40.67 L253.05,38.58 L253.64,36.66 L254.24,34.89 L254.84,33.27 L255.43,31.79 L256.03,30.44 L256.63,29.22 L257.22,28.11 L257.82,27.11 L258.41,26.20 L259.01,25.39 L259.61,24.67 L260.20,24.02 L260.80,23.45 L261.40,22.93 L261.99,22.48 L262.59,22.08 L263.19,21.73 L263.78,21.42 L264.38,21.15 L264.97,20.92 L265.57,20.71 L266.17,20.53 L266.76,20.38 L267.36,20.25 L267.96,20.13 L268.55,20.03 L269.15,19.95 L269.75,19.88 L270.34,19.82 L270.94,19.77 L271.53,19.72 L272.13,19.68 L272.73,19.65 L273.32,19.63 L273.92,19.60 L274.52,19.59 L275.11,19.57 L275.71,19.56" fill="none" stroke="#000" stroke-opacity="0.13" stroke-width="1"/>
<path d="M247.45,19.55 L248.04,19.57 L248.64,19.58 L249.23,19.60 L249.83,19.62 L250.42,19.64 L251.02,19.67 L251.61,19.71 L252.20,19.75 L252.80,19.80 L253.39,19.86 L253.99,19.92 L254.58,20.00 L255.18,20.10 L255.77,20.20 L256.36,20.33 L256.96,20.47 L257.55,20.64 L258.15,20.84 L258.74,21.06 L259.34,21.31 L259.93,21.60 L260.53,21.93 L261.12,22.31 L261.71,22.74 L262.31,23.22 L262.90,23.76 L263.50,24.37 L264.09,25.05 L264.69,25.82 L265.28,26.67 L265.88,27.61 L266.47,28.66 L267.06,29.81 L267.66,31.08 L268.25,32.48 L268.85,34.00 L269.44,35.67 L270.04,37.48 L270.63,39.45 L271.22,41.57 L271.82,43.86 L272.41,46.33 L273.01,48.96 L273.60,51.78 L274.20,54.77 L274.79,57.95 L275.39,61.31 L275.98,64.85 L276.57,68.56 L277.17,72.45 L277.76,76.50 L278.36,80.71 L278.95,85.07 L279.55,89.56 L280.14,94.17 L280.73,98.89 L281.33,103.69 L281.92,108.56 L282.52,113.48 L283.11,118.43 L283.71,123.37 L284.30,128.28 L284.90,133.15 L285.49,137.93 L286.08,142.61 L286.68,147.16 L287.27,151.54 L287.87,155.73 L288.46,159.71 L289.06,163.44 L289.65,166.89 L290.24,170.06 L290.84,172.91 L291.43,175.42 L292.03,177.58 L292.62,179.37 L293.22,180.78 L293.81,181.79 L294.41,182.40 L295.00,182.60 L295.59,182.40 L296.19,181.79 L296.78,180.78 L297.38,179.37 L297.97,177.58 L298.57,175.42 L299.16,172.91 L299.76,170.06 L300.35,166.89 L300.94,163.44 L301.54,159.71 L302.13,155.73 L302.73,151.54 L303.32,147.16 L303.92,142.61 L304.51,137.93 L305.10,133.15 L305.70,128.28 L306.29,123.37 L306.89,118.43 L307.48,113.48 L308.08,108.56 L308.67,103.69 L309.27,98.89 L309.86,94.17 L310.45,89.56 L311.05,85.07 L311.64,80.71 L312.24,76.50 L312.83,72.45 L313.43,68.56 L314.02,64.85 L314.61,61.31 L315.21,57.95 L315.80,54.77 L316.40,51.78 L316.99,48.96 L317.59,46.33 L318.18,43.86 L318.78,41.57 L319.37,39.45 L319.96,37.48 L320.56,35.67 L321.15,34.00 L321.75,32.48 L322.34,31.08 L322.94,29.81 L323.53,28.66 L324.12,27.61 L324.72,26.67 L325.31,25.82 L325.91,25.05 L326.50,24.37 L327.10,23.76 L327.69,23.22 L328.29,22.74 L328.88,22.31 L329.47,21.93 L330.07,21.60 L330.66,21.31 L331.26,21.06 L331.85,20.84 L332.45,20.64 L333.04,20.47 L333.64,20.33 L334.23,20.20 L334.82,20.10 L335.42,20.00 L336.01,19.92 L336.61,19.86 L337.20,19.80 L337.80,19.75 L338.39,19.71 L338.98,19.67 L339.58,19.64 L340.17,19.62 L340.77,19.60 L341.36,19.58 L341.96,19.57 L342.55,19.55" fill="none" stroke="#000" stroke-opacity="0.13" stroke-width="1"/>
<path d="M314.12,19.56 L314.71,19.57 L315.30,19.58 L315.89,19.60 L316.49,19.62 L317.08,19.65 L317.67,19.68 L318.26,19.71 L318.86,19.75 L319.45,19.80 L320.04,19.86 L320.63,19.93 L321.23,20.01 L321.82,20.10 L322.41,20.21 L323.00,20.34 L323.59,20.48 L324.19,20.65 L324.78,20.85 L325.37,21.07 L325.96,21.33 L326.56,21.62 L327.15,21.96 L327.74,22.34 L328.33,22.77 L328.92,23.25 L329.52,23.80 L330.11,24.42 L330.70,25.11 L331.29,25.88 L331.89,26.74 L332.48,27.69 L333.07,28.75 L333.66,29.91 L334.26,31.19 L334.85,32.60 L335.44,34.15 L336.03,35.83 L336.62,37.66 L337.22,39.64 L337.81,41.79 L338.40,44.10 L338.99,46.59 L339.59,49.25 L340.18,52.09 L340.77,55.12 L341.36,58.33 L341.95,61.72 L342.55,65.29 L343.14,69.04 L343.73,72.97 L344.32,77.06 L344.92,81.31 L345.51,85.71 L346.10,90.25 L346.69,94.91 L347.29,99.67 L347.88,104.52 L348.47,109.44 L349.06,114.40 L349.65,119.40 L350.25,124.39 L350.84,129.35 L351.43,134.26 L352.02,139.10 L352.62,143.82 L353.21,148.41 L353.80,152.84 L354.39,157.07 L354.98,161.08 L355.58,164.85 L356.17,168.34 L356.76,171.54 L357.35,174.41 L357.95,176.95 L358.54,179.13 L359.13,180.94 L359.72,182.36 L360.32,183.38 L360.91,183.99 L361.50,184.20 L362.09,183.99 L362.68,183.38 L363.28,182.36 L363.87,180.94 L364.46,179.13 L365.05,176.95 L365.65,174.41 L366.24,171.54 L366.83,168.34 L367.42,164.85 L368.02,161.08 L368.61,157.07 L369.20,152.84 L369.79,148.41 L370.38,143.82 L370.98,139.10 L371.57,134.26 L372.16,129.35 L372.75,124.39 L373.35,119.40 L373.94,114.40 L374.53,109.44 L375.12,104.52 L375.71,99.67 L376.31,94.91 L376.90,90.25 L377.49,85.71 L378.08,81.31 L378.68,77.06 L379.27,72.97 L379.86,69.04 L380.45,65.29 L381.05,61.72 L381.64,58.33 L382.23,55.12 L382.82,52.09 L383.41,49.25 L384.01,46.59 L384.60,44.10 L385.19,41.79 L385.78,39.64 L386.38,37.66 L386.97,35.83 L387.56,34.15 L388.15,32.60 L388.74,31.19 L389.34,29.91 L389.93,28.75 L390.52,27.69 L391.11,26.74 L391.71,25.88 L392.30,25.11 L392.89,24.42 L393.48,23.80 L394.08,23.25 L394.67,22.77 L395.26,22.34 L395.85,21.96 L396.44,21.62 L397.04,21.33 L397.63,21.07 L398.22,20.85 L398.81,20.65 L399.41,20.48 L400.00,20.34 L400.59,20.21 L401.18,20.10 L401.77,20.01 L402.37,19.93 L402.96,19.86 L403.55,19.80 L404.14,19.75 L404.74,19.71 L405.33,19.68 L405.92,19.65 L406.51,19.62 L407.11,19.60 L407.70,19.58 L408.29,19.57 L408.88,19.56" fill="none" stroke="#000" stroke-opacity="0.13" stroke-width="1"/>
<path d="M374.59,19.57 L375.25,19.59 L375.92,19.61 L376.58,19.63 L377.24,19.66 L377.90,19.69 L378.57,19.73 L379.23,19.78 L379.89,19.83 L380.56,19.90 L381.22,19.97 L381.88,20.06 L382.54,20.17 L383.21,20.29 L383.87,20.44 L384.53,20.60 L385.19,20.80 L385.86,21.02 L386.52,21.28 L387.18,21.57 L387.84,21.91 L388.51,22.29 L389.17,22.73 L389.83,23.23 L390.49,23.80 L391.16,24.44 L391.82,25.16 L392.48,25.97 L393.14,26.88 L393.81,27.90 L394.47,29.03 L395.13,30.28 L395.79,31.67 L396.46,33.20 L397.12,34.89 L397.78,36.75 L398.45,38.78 L399.11,40.99 L399.77,43.40 L400.43,46.02 L401.10,48.84 L401.76,51.89 L402.42,55.16 L403.08,58.66 L403.75,62.40 L404.41,66.39 L405.07,70.61 L405.73,75.07 L406.40,79.78 L407.06,84.72 L407.72,89.88 L408.38,95.27 L409.05,100.87 L409.71,106.66 L410.37,112.63 L411.03,118.76 L411.70,125.03 L412.36,131.41 L413.02,137.89 L413.69,144.43 L414.35,151.00 L415.01,157.57 L415.67,164.10 L416.34,170.57 L417.00,176.93 L417.66,183.15 L418.32,189.19 L418.99,195.02 L419.65,200.59 L420.31,205.87 L420.97,210.83 L421.64,215.42 L422.30,219.63 L422.96,223.42 L423.62,226.76 L424.29,229.63 L424.95,232.01 L425.61,233.87 L426.27,235.22 L426.94,236.03 L427.60,236.30 L428.26,236.03 L428.93,235.22 L429.59,233.87 L430.25,232.01 L430.91,229.63 L431.58,226.76 L432.24,223.42 L432.90,219.63 L433.56,215.42 L434.23,210.83 L434.89,205.87 L435.55,200.59 L436.21,195.02 L436.88,189.19 L437.54,183.15 L438.20,176.93 L438.86,170.57 L439.53,164.10 L440.19,157.57 L440.85,151.00 L441.51,144.43 L442.18,137.89 L442.84,131.41 L443.50,125.03 L444.17,118.76 L444.83,112.63 L445.49,106.66 L446.15,100.87 L446.82,95.27 L447.48,89.88 L448.14,84.72 L448.80,79.78 L449.47,75.07 L450.13,70.61 L450.79,66.39 L451.45,62.40 L452.12,58.66 L452.78,55.16 L453.44,51.89 L454.10,48.84 L454.77,46.02 L455.43,43.40 L456.09,40.99 L456.75,38.78 L457.42,36.75 L458.08,34.89 L458.74,33.20 L459.41,31.67 L460.07,30.28 L460.73,29.03 L461.39,27.90 L462.06,26.88 L462.72,25.97 L463.38,25.16 L464.04,24.44 L464.71,23.80 L465.37,23.23 L466.03,22.73 L466.69,22.29 L467.36,21.91 L468.02,21.57 L468.68,21.28 L469.34,21.02 L470.01,20.80 L470.67,20.60 L471.33,20.44 L471.99,20.29 L472.66,20.17 L473.32,20.06 L473.98,19.97 L474.64,19.90 L475.31,19.83 L475.97,19.78 L476.63,19.73 L477.30,19.69 L477.96,19.66 L478.62,19.63 L479.28,19.61 L479.95,19.59 L480.61,19.57" fill="none" stroke="#000" stroke-opacity="0.13" stroke-width="1"/>
<path d="M440.62,19.57 L441.33,19.58 L442.04,19.60 L442.75,19.62 L443.46,19.65 L444.17,19.68 L444.88,19.72 L445.60,19.76 L446.31,19.81 L447.02,19.87 L447.73,19.95 L448.44,20.03 L449.15,20.13 L449.86,20.25 L450.57,20.38 L451.28,20.54 L451.99,20.72 L452.71,20.93 L453.42,21.17 L454.13,21.45 L454.84,21.77 L455.55,22.13 L456.26,22.54 L456.97,23.01 L457.68,23.55 L458.39,24.15 L459.10,24.83 L459.82,25.59 L460.53,26.44 L461.24,27.40 L461.95,28.46 L462.66,29.64 L463.37,30.95 L464.08,32.39 L464.79,33.98 L465.50,35.72 L466.21,37.63 L466.93,39.71 L467.64,41.98 L468.35,44.44 L469.06,47.09 L469.77,49.96 L470.48,53.04 L471.19,56.33 L471.90,59.85 L472.61,63.60 L473.33,67.57 L474.04,71.77 L474.75,76.19 L475.46,80.84 L476.17,85.70 L476.88,90.76 L477.59,96.03 L478.30,101.47 L479.01,107.09 L479.72,112.85 L480.44,118.75 L481.15,124.75 L481.86,130.84 L482.57,136.99 L483.28,143.17 L483.99,149.35 L484.70,155.50 L485.41,161.58 L486.12,167.56 L486.83,173.41 L487.55,179.09 L488.26,184.57 L488.97,189.81 L489.68,194.78 L490.39,199.44 L491.10,203.77 L491.81,207.72 L492.52,211.29 L493.23,214.43 L493.94,217.13 L494.66,219.36 L495.37,221.12 L496.08,222.38 L496.79,223.15 L497.50,223.40 L498.21,223.15 L498.92,222.38 L499.63,221.12 L500.34,219.36 L501.06,217.13 L501.77,214.43 L502.48,211.29 L503.19,207.72 L503.90,203.77 L504.61,199.44 L505.32,194.78 L506.03,189.81 L506.74,184.57 L507.45,179.09 L508.17,173.41 L508.88,167.56 L509.59,161.58 L510.30,155.50 L511.01,149.35 L511.72,143.17 L512.43,136.99 L513.14,130.84 L513.85,124.75 L514.56,118.75 L515.28,112.85 L515.99,107.09 L516.70,101.47 L517.41,96.03 L518.12,90.76 L518.83,85.70 L519.54,80.84 L520.25,76.19 L520.96,71.77 L521.67,67.57 L522.39,63.60 L523.10,59.85 L523.81,56.33 L524.52,53.04 L525.23,49.96 L525.94,47.09 L526.65,44.44 L527.36,41.98 L528.07,39.71 L528.79,37.63 L529.50,35.72 L530.21,33.98 L530.92,32.39 L531.63,30.95 L532.34,29.64 L533.05,28.46 L533.76,27.40 L534.47,26.44 L535.18,25.59 L535.90,24.83 L536.61,24.15 L537.32,23.55 L538.03,23.01 L538.74,22.54 L539.45,22.13 L540.16,21.77 L540.87,21.45 L541.58,21.17 L542.29,20.93 L543.01,20.72 L543.72,20.54 L544.43,20.38 L545.14,20.25 L545.85,20.13 L546.56,20.03 L547.27,19.95 L547.98,19.87 L548.69,19.81 L549.40,19.76 L550.12,19.72 L550.83,19.68 L551.54,19.65 L552.25,19.62 L552.96,19.60 L553.67,19.58 L554.38,19.57" fill="none" stroke="#000" stroke-opacity="0.13" stroke-width="1"/>
<path d="M502.13,19.55 L502.94,19.56 L503.74,19.58 L504.55,19.59 L505.36,19.61 L506.17,19.64 L506.97,19.67 L507.78,19.70 L508.59,19.74 L509.39,19.79 L510.20,19.84 L511.01,19.91 L511.82,19.98 L512.62,20.07 L513.43,20.17 L514.24,20.29 L515.04,20.43 L515.85,20.59 L516.66,20.78 L517.47,20.99 L518.27,21.23 L519.08,21.51 L519.89,21.82 L520.69,22.18 L521.50,22.59 L522.31,23.05 L523.12,23.57 L523.92,24.15 L524.73,24.80 L525.54,25.53 L526.34,26.35 L527.15,27.25 L527.96,28.25 L528.77,29.35 L529.57,30.56 L530.38,31.90 L531.19,33.35 L531.99,34.95 L532.80,36.68 L533.61,38.55 L534.41,40.59 L535.22,42.77 L536.03,45.13 L536.84,47.64 L537.64,50.33 L538.45,53.19 L539.26,56.23 L540.06,59.44 L540.87,62.82 L541.68,66.37 L542.49,70.08 L543.29,73.95 L544.10,77.97 L544.91,82.13 L545.71,86.43 L546.52,90.83 L547.33,95.34 L548.14,99.92 L548.94,104.58 L549.75,109.28 L550.56,114.00 L551.36,118.72 L552.17,123.41 L552.98,128.06 L553.79,132.63 L554.59,137.10 L555.40,141.45 L556.21,145.63 L557.01,149.64 L557.82,153.43 L558.63,156.99 L559.44,160.30 L560.24,163.32 L561.05,166.04 L561.86,168.44 L562.66,170.51 L563.47,172.21 L564.28,173.56 L565.09,174.52 L565.89,175.11 L566.70,175.30 L567.51,175.11 L568.31,174.52 L569.12,173.56 L569.93,172.21 L570.74,170.51 L571.54,168.44 L572.35,166.04 L573.16,163.32 L573.96,160.30 L574.77,156.99 L575.58,153.43 L576.39,149.64 L577.19,145.63 L578.00,141.45 L578.81,137.10 L579.61,132.63 L580.42,128.06 L581.23,123.41 L582.04,118.72 L582.84,114.00 L583.65,109.28 L584.46,104.58 L585.26,99.92 L586.07,95.34 L586.88,90.83 L587.69,86.43 L588.49,82.13 L589.30,77.97 L590.11,73.95 L590.91,70.08 L591.72,66.37 L592.53,62.82 L593.34,59.44 L594.14,56.23 L594.95,53.19 L595.76,50.33 L596.56,47.64 L597.37,45.13 L598.18,42.77 L598.99,40.59 L599.79,38.55 L600.60,36.68 L601.41,34.95 L602.21,33.35 L603.02,31.90 L603.83,30.56 L604.63,29.35 L605.44,28.25 L606.25,27.25 L607.06,26.35 L607.86,25.53 L608.67,24.80 L609.48,24.15 L610.28,23.57 L611.09,23.05 L611.90,22.59 L612.71,22.18 L613.51,21.82 L614.32,21.51 L615.13,21.23 L615.93,20.99 L616.74,20.78 L617.55,20.59 L618.36,20.43 L619.16,20.29 L619.97,20.17 L620.78,20.07 L621.58,19.98 L622.39,19.91 L623.20,19.84 L624.01,19.79 L624.81,19.74 L625.62,19.70 L626.43,19.67 L627.23,19.64 L628.04,19.61 L628.85,19.59 L629.66,19.58 L630.46,19.56 L631.27,19.55" fill="none" stroke="#000" stroke-opacity="0.13" stroke-width="1"/>
<path d="M545.94,19.53 L547.11,19.54 L548.27,19.55 L549.44,19.56 L550.61,19.57 L551.78,19.59 L552.95,19.60 L554.12,19.62 L555.29,19.65 L556.46,19.68 L557.63,19.71 L558.80,19.75 L559.97,19.80 L561.14,19.85 L562.31,19.92 L563.48,19.99 L564.65,20.08 L565.82,20.18 L566.99,20.29 L568.16,20.43 L569.33,20.58 L570.50,20.75 L571.67,20.95 L572.84,21.17 L574.00,21.42 L575.17,21.71 L576.34,22.03 L577.51,22.39 L578.68,22.80 L579.85,23.25 L581.02,23.76 L582.19,24.32 L583.36,24.94 L584.53,25.63 L585.70,26.38 L586.87,27.21 L588.04,28.12 L589.21,29.11 L590.38,30.18 L591.55,31.35 L592.72,32.61 L593.89,33.98 L595.06,35.44 L596.23,37.00 L597.40,38.68 L598.57,40.46 L599.74,42.34 L600.90,44.34 L602.07,46.44 L603.24,48.65 L604.41,50.96 L605.58,53.37 L606.75,55.87 L607.92,58.46 L609.09,61.12 L610.26,63.86 L611.43,66.67 L612.60,69.52 L613.77,72.41 L614.94,75.34 L616.11,78.27 L617.28,81.21 L618.45,84.13 L619.62,87.02 L620.79,89.86 L621.96,92.64 L623.13,95.34 L624.30,97.95 L625.47,100.44 L626.63,102.80 L627.80,105.01 L628.97,107.07 L630.14,108.95 L631.31,110.64 L632.48,112.14 L633.65,113.42 L634.82,114.48 L635.99,115.32 L637.16,115.92 L638.33,116.28 L639.50,116.40" fill="none" stroke="#000" stroke-opacity="0.13" stroke-width="1"/>
</g><g clip-path="url(#clB)">
<path d="M8.54,271.43 L9.16,271.42 L9.79,271.40 L10.41,271.38 L11.03,271.35 L11.65,271.32 L12.27,271.29 L12.90,271.24 L13.52,271.19 L14.14,271.13 L14.76,271.06 L15.38,270.98 L16.01,270.88 L16.63,270.77 L17.25,270.64 L17.87,270.49 L18.49,270.31 L19.12,270.10 L19.74,269.87 L20.36,269.59 L20.98,269.28 L21.60,268.93 L22.23,268.52 L22.85,268.06 L23.47,267.54 L24.09,266.95 L24.71,266.29 L25.34,265.54 L25.96,264.71 L26.58,263.77 L27.20,262.73 L27.82,261.58 L28.45,260.30 L29.07,258.89 L29.69,257.33 L30.31,255.63 L30.93,253.76 L31.55,251.72 L32.18,249.51 L32.80,247.10 L33.42,244.50 L34.04,241.70 L34.66,238.69 L35.29,235.46 L35.91,232.02 L36.53,228.36 L37.15,224.47 L37.77,220.36 L38.40,216.03 L39.02,211.49 L39.64,206.73 L40.26,201.77 L40.88,196.63 L41.51,191.30 L42.13,185.80 L42.75,180.16 L43.37,174.39 L43.99,168.52 L44.62,162.56 L45.24,156.54 L45.86,150.50 L46.48,144.45 L47.10,138.44 L47.73,132.49 L48.35,126.63 L48.97,120.91 L49.59,115.35 L50.21,109.99 L50.84,104.86 L51.46,100.00 L52.08,95.44 L52.70,91.21 L53.32,87.34 L53.95,83.85 L54.57,80.78 L55.19,78.14 L55.81,75.95 L56.43,74.23 L57.06,73.00 L57.68,72.25 L58.30,72.00 L58.92,72.25 L59.54,73.00 L60.17,74.23 L60.79,75.95 L61.41,78.14 L62.03,80.78 L62.65,83.85 L63.28,87.34 L63.90,91.21 L64.52,95.44 L65.14,100.00 L65.76,104.86 L66.39,109.99 L67.01,115.35 L67.63,120.91 L68.25,126.63 L68.87,132.49 L69.50,138.44 L70.12,144.45 L70.74,150.50 L71.36,156.54 L71.98,162.56 L72.61,168.52 L73.23,174.39 L73.85,180.16 L74.47,185.80 L75.09,191.30 L75.72,196.63 L76.34,201.77 L76.96,206.73 L77.58,211.49 L78.20,216.03 L78.83,220.36 L79.45,224.47 L80.07,228.36 L80.69,232.02 L81.31,235.46 L81.94,238.69 L82.56,241.70 L83.18,244.50 L83.80,247.10 L84.42,249.51 L85.05,251.72 L85.67,253.76 L86.29,255.63 L86.91,257.33 L87.53,258.89 L88.15,260.30 L88.78,261.58 L89.40,262.73 L90.02,263.77 L90.64,264.71 L91.26,265.54 L91.89,266.29 L92.51,266.95 L93.13,267.54 L93.75,268.06 L94.37,268.52 L95.00,268.93 L95.62,269.28 L96.24,269.59 L96.86,269.87 L97.48,270.10 L98.11,270.31 L98.73,270.49 L99.35,270.64 L99.97,270.77 L100.59,270.88 L101.22,270.98 L101.84,271.06 L102.46,271.13 L103.08,271.19 L103.70,271.24 L104.33,271.29 L104.95,271.32 L105.57,271.35 L106.19,271.38 L106.81,271.40 L107.44,271.42 L108.06,271.43" fill="none" stroke="#000" stroke-opacity="0.10" stroke-width="1"/>
<path d="M74.99,271.43 L75.63,271.42 L76.27,271.40 L76.91,271.38 L77.55,271.35 L78.19,271.32 L78.83,271.29 L79.47,271.25 L80.11,271.19 L80.75,271.14 L81.39,271.06 L82.03,270.98 L82.67,270.89 L83.31,270.77 L83.95,270.64 L84.59,270.49 L85.23,270.31 L85.87,270.11 L86.51,269.87 L87.15,269.60 L87.79,269.29 L88.43,268.94 L89.07,268.53 L89.71,268.07 L90.35,267.55 L90.99,266.97 L91.64,266.30 L92.28,265.56 L92.92,264.73 L93.56,263.80 L94.20,262.76 L94.84,261.61 L95.48,260.33 L96.12,258.93 L96.76,257.38 L97.40,255.68 L98.04,253.81 L98.68,251.78 L99.32,249.57 L99.96,247.17 L100.60,244.58 L101.24,241.79 L101.88,238.79 L102.52,235.57 L103.16,232.14 L103.80,228.48 L104.44,224.61 L105.08,220.51 L105.72,216.20 L106.36,211.67 L107.00,206.93 L107.64,201.98 L108.28,196.85 L108.92,191.54 L109.56,186.06 L110.20,180.44 L110.84,174.68 L111.48,168.83 L112.12,162.89 L112.76,156.89 L113.40,150.86 L114.04,144.83 L114.68,138.84 L115.32,132.91 L115.96,127.07 L116.60,121.36 L117.24,115.82 L117.88,110.48 L118.52,105.36 L119.16,100.52 L119.80,95.97 L120.44,91.75 L121.08,87.89 L121.72,84.42 L122.36,81.35 L123.00,78.72 L123.64,76.54 L124.28,74.83 L124.92,73.59 L125.56,72.85 L126.20,72.60 L126.84,72.85 L127.48,73.59 L128.12,74.83 L128.76,76.54 L129.40,78.72 L130.04,81.35 L130.68,84.42 L131.32,87.89 L131.96,91.75 L132.60,95.97 L133.24,100.52 L133.88,105.36 L134.52,110.48 L135.16,115.82 L135.80,121.36 L136.44,127.07 L137.08,132.91 L137.72,138.84 L138.36,144.83 L139.00,150.86 L139.64,156.89 L140.28,162.89 L140.92,168.83 L141.56,174.68 L142.20,180.44 L142.84,186.06 L143.48,191.54 L144.12,196.85 L144.76,201.98 L145.40,206.93 L146.04,211.67 L146.68,216.20 L147.32,220.51 L147.96,224.61 L148.60,228.48 L149.24,232.14 L149.88,235.57 L150.52,238.79 L151.16,241.79 L151.80,244.58 L152.44,247.17 L153.08,249.57 L153.72,251.78 L154.36,253.81 L155.00,255.68 L155.64,257.38 L156.28,258.93 L156.92,260.33 L157.56,261.61 L158.20,262.76 L158.84,263.80 L159.48,264.73 L160.12,265.56 L160.76,266.30 L161.41,266.97 L162.05,267.55 L162.69,268.07 L163.33,268.53 L163.97,268.94 L164.61,269.29 L165.25,269.60 L165.89,269.87 L166.53,270.11 L167.17,270.31 L167.81,270.49 L168.45,270.64 L169.09,270.77 L169.73,270.89 L170.37,270.98 L171.01,271.06 L171.65,271.14 L172.29,271.19 L172.93,271.25 L173.57,271.29 L174.21,271.32 L174.85,271.35 L175.49,271.38 L176.13,271.40 L176.77,271.42 L177.41,271.43" fill="none" stroke="#000" stroke-opacity="0.10" stroke-width="1"/>
<path d="M146.26,271.43 L146.87,271.42 L147.48,271.40 L148.10,271.38 L148.71,271.36 L149.32,271.32 L149.93,271.29 L150.54,271.25 L151.15,271.20 L151.77,271.14 L152.38,271.07 L152.99,270.98 L153.60,270.89 L154.21,270.78 L154.83,270.64 L155.44,270.49 L156.05,270.32 L156.66,270.11 L157.27,269.88 L157.88,269.61 L158.50,269.30 L159.11,268.95 L159.72,268.54 L160.33,268.09 L160.94,267.57 L161.55,266.98 L162.17,266.33 L162.78,265.58 L163.39,264.76 L164.00,263.83 L164.61,262.80 L165.22,261.65 L165.84,260.38 L166.45,258.98 L167.06,257.43 L167.67,255.74 L168.28,253.88 L168.90,251.86 L169.51,249.66 L170.12,247.27 L170.73,244.69 L171.34,241.91 L171.95,238.92 L172.57,235.72 L173.18,232.30 L173.79,228.66 L174.40,224.80 L175.01,220.72 L175.62,216.42 L176.24,211.91 L176.85,207.19 L177.46,202.26 L178.07,197.15 L178.68,191.86 L179.29,186.40 L179.91,180.80 L180.52,175.07 L181.13,169.24 L181.74,163.32 L182.35,157.35 L182.97,151.35 L183.58,145.34 L184.19,139.37 L184.80,133.46 L185.41,127.65 L186.02,121.97 L186.64,116.45 L187.25,111.12 L187.86,106.03 L188.47,101.21 L189.08,96.68 L189.69,92.48 L190.31,88.63 L190.92,85.17 L191.53,82.12 L192.14,79.49 L192.75,77.32 L193.36,75.62 L193.98,74.39 L194.59,73.65 L195.20,73.40 L195.81,73.65 L196.42,74.39 L197.04,75.62 L197.65,77.32 L198.26,79.49 L198.87,82.12 L199.48,85.17 L200.09,88.63 L200.71,92.48 L201.32,96.68 L201.93,101.21 L202.54,106.03 L203.15,111.12 L203.76,116.45 L204.38,121.97 L204.99,127.65 L205.60,133.46 L206.21,139.37 L206.82,145.34 L207.43,151.35 L208.05,157.35 L208.66,163.32 L209.27,169.24 L209.88,175.07 L210.49,180.80 L211.11,186.40 L211.72,191.86 L212.33,197.15 L212.94,202.26 L213.55,207.19 L214.16,211.91 L214.78,216.42 L215.39,220.72 L216.00,224.80 L216.61,228.66 L217.22,232.30 L217.83,235.72 L218.45,238.92 L219.06,241.91 L219.67,244.69 L220.28,247.27 L220.89,249.66 L221.50,251.86 L222.12,253.88 L222.73,255.74 L223.34,257.43 L223.95,258.98 L224.56,260.38 L225.18,261.65 L225.79,262.80 L226.40,263.83 L227.01,264.76 L227.62,265.58 L228.23,266.33 L228.85,266.98 L229.46,267.57 L230.07,268.09 L230.68,268.54 L231.29,268.95 L231.90,269.30 L232.52,269.61 L233.13,269.88 L233.74,270.11 L234.35,270.32 L234.96,270.49 L235.57,270.64 L236.19,270.78 L236.80,270.89 L237.41,270.98 L238.02,271.07 L238.63,271.14 L239.25,271.20 L239.86,271.25 L240.47,271.29 L241.08,271.32 L241.69,271.36 L242.30,271.38 L242.92,271.40 L243.53,271.42 L244.14,271.43" fill="none" stroke="#000" stroke-opacity="0.10" stroke-width="1"/>
<path d="M214.59,271.43 L215.20,271.42 L215.82,271.40 L216.43,271.38 L217.04,271.35 L217.65,271.32 L218.26,271.29 L218.87,271.24 L219.48,271.19 L220.10,271.13 L220.71,271.06 L221.32,270.98 L221.93,270.88 L222.54,270.77 L223.15,270.64 L223.76,270.48 L224.37,270.31 L224.99,270.10 L225.60,269.87 L226.21,269.59 L226.82,269.28 L227.43,268.93 L228.04,268.52 L228.65,268.06 L229.27,267.54 L229.88,266.95 L230.49,266.29 L231.10,265.54 L231.71,264.70 L232.32,263.77 L232.93,262.73 L233.54,261.57 L234.16,260.30 L234.77,258.88 L235.38,257.33 L235.99,255.62 L236.60,253.75 L237.21,251.71 L237.82,249.49 L238.44,247.09 L239.05,244.49 L239.66,241.68 L240.27,238.67 L240.88,235.44 L241.49,232.00 L242.10,228.33 L242.71,224.45 L243.33,220.33 L243.94,216.00 L244.55,211.46 L245.16,206.70 L245.77,201.74 L246.38,196.59 L246.99,191.26 L247.61,185.76 L248.22,180.12 L248.83,174.34 L249.44,168.47 L250.05,162.50 L250.66,156.48 L251.27,150.44 L251.88,144.39 L252.50,138.37 L253.11,132.42 L253.72,126.56 L254.33,120.83 L254.94,115.27 L255.55,109.91 L256.16,104.78 L256.78,99.92 L257.39,95.35 L258.00,91.12 L258.61,87.25 L259.22,83.76 L259.83,80.68 L260.44,78.04 L261.05,75.85 L261.67,74.13 L262.28,72.90 L262.89,72.15 L263.50,71.90 L264.11,72.15 L264.72,72.90 L265.33,74.13 L265.95,75.85 L266.56,78.04 L267.17,80.68 L267.78,83.76 L268.39,87.25 L269.00,91.12 L269.61,95.35 L270.22,99.92 L270.84,104.78 L271.45,109.91 L272.06,115.27 L272.67,120.83 L273.28,126.56 L273.89,132.42 L274.50,138.37 L275.12,144.39 L275.73,150.44 L276.34,156.48 L276.95,162.50 L277.56,168.47 L278.17,174.34 L278.78,180.12 L279.39,185.76 L280.01,191.26 L280.62,196.59 L281.23,201.74 L281.84,206.70 L282.45,211.46 L283.06,216.00 L283.67,220.33 L284.29,224.45 L284.90,228.33 L285.51,232.00 L286.12,235.44 L286.73,238.67 L287.34,241.68 L287.95,244.49 L288.56,247.09 L289.18,249.49 L289.79,251.71 L290.40,253.75 L291.01,255.62 L291.62,257.33 L292.23,258.88 L292.84,260.30 L293.46,261.57 L294.07,262.73 L294.68,263.77 L295.29,264.70 L295.90,265.54 L296.51,266.29 L297.12,266.95 L297.73,267.54 L298.35,268.06 L298.96,268.52 L299.57,268.93 L300.18,269.28 L300.79,269.59 L301.40,269.87 L302.01,270.10 L302.63,270.31 L303.24,270.48 L303.85,270.64 L304.46,270.77 L305.07,270.88 L305.68,270.98 L306.29,271.06 L306.90,271.13 L307.52,271.19 L308.13,271.24 L308.74,271.29 L309.35,271.32 L309.96,271.35 L310.57,271.38 L311.18,271.40 L311.80,271.42 L312.41,271.43" fill="none" stroke="#000" stroke-opacity="0.10" stroke-width="1"/>
<path d="M284.26,271.44 L284.86,271.42 L285.46,271.40 L286.06,271.38 L286.66,271.36 L287.26,271.33 L287.87,271.30 L288.47,271.25 L289.07,271.21 L289.67,271.15 L290.27,271.08 L290.88,271.00 L291.48,270.91 L292.08,270.80 L292.68,270.67 L293.28,270.53 L293.88,270.36 L294.49,270.16 L295.09,269.93 L295.69,269.67 L296.29,269.37 L296.89,269.03 L297.50,268.64 L298.10,268.20 L298.70,267.70 L299.30,267.13 L299.90,266.50 L300.50,265.78 L301.11,264.98 L301.71,264.08 L302.31,263.09 L302.91,261.98 L303.51,260.75 L304.12,259.39 L304.72,257.90 L305.32,256.26 L305.92,254.47 L306.52,252.52 L307.12,250.39 L307.73,248.08 L308.33,245.58 L308.93,242.89 L309.53,240.00 L310.13,236.91 L310.74,233.60 L311.34,230.09 L311.94,226.35 L312.54,222.41 L313.14,218.26 L313.74,213.89 L314.35,209.33 L314.95,204.57 L315.55,199.63 L316.15,194.51 L316.75,189.24 L317.35,183.82 L317.96,178.29 L318.56,172.65 L319.16,166.93 L319.76,161.15 L320.36,155.35 L320.97,149.55 L321.57,143.77 L322.17,138.06 L322.77,132.44 L323.37,126.95 L323.97,121.61 L324.58,116.47 L325.18,111.55 L325.78,106.88 L326.38,102.50 L326.98,98.44 L327.59,94.72 L328.19,91.38 L328.79,88.43 L329.39,85.89 L329.99,83.79 L330.59,82.14 L331.20,80.96 L331.80,80.24 L332.40,80.00 L333.00,80.24 L333.60,80.96 L334.21,82.14 L334.81,83.79 L335.41,85.89 L336.01,88.43 L336.61,91.38 L337.21,94.72 L337.82,98.44 L338.42,102.50 L339.02,106.88 L339.62,111.55 L340.22,116.47 L340.83,121.61 L341.43,126.95 L342.03,132.44 L342.63,138.06 L343.23,143.77 L343.83,149.55 L344.44,155.35 L345.04,161.15 L345.64,166.93 L346.24,172.65 L346.84,178.29 L347.45,183.82 L348.05,189.24 L348.65,194.51 L349.25,199.63 L349.85,204.57 L350.45,209.33 L351.06,213.89 L351.66,218.26 L352.26,222.41 L352.86,226.35 L353.46,230.09 L354.06,233.60 L354.67,236.91 L355.27,240.00 L355.87,242.89 L356.47,245.58 L357.07,248.08 L357.68,250.39 L358.28,252.52 L358.88,254.47 L359.48,256.26 L360.08,257.90 L360.68,259.39 L361.29,260.75 L361.89,261.98 L362.49,263.09 L363.09,264.08 L363.69,264.98 L364.30,265.78 L364.90,266.50 L365.50,267.13 L366.10,267.70 L366.70,268.20 L367.30,268.64 L367.91,269.03 L368.51,269.37 L369.11,269.67 L369.71,269.93 L370.31,270.16 L370.92,270.36 L371.52,270.53 L372.12,270.67 L372.72,270.80 L373.32,270.91 L373.92,271.00 L374.53,271.08 L375.13,271.15 L375.73,271.21 L376.33,271.25 L376.93,271.30 L377.54,271.33 L378.14,271.36 L378.74,271.38 L379.34,271.40 L379.94,271.42 L380.54,271.44" fill="none" stroke="#000" stroke-opacity="0.10" stroke-width="1"/>
<path d="M353.39,271.44 L354.00,271.42 L354.61,271.41 L355.22,271.39 L355.82,271.36 L356.43,271.33 L357.04,271.30 L357.65,271.26 L358.25,271.21 L358.86,271.16 L359.47,271.09 L360.08,271.01 L360.68,270.92 L361.29,270.81 L361.90,270.69 L362.51,270.54 L363.11,270.38 L363.72,270.18 L364.33,269.96 L364.94,269.71 L365.54,269.41 L366.15,269.08 L366.76,268.70 L367.37,268.26 L367.98,267.77 L368.58,267.22 L369.19,266.59 L369.80,265.89 L370.41,265.10 L371.01,264.22 L371.62,263.24 L372.23,262.16 L372.84,260.95 L373.44,259.62 L374.05,258.16 L374.66,256.55 L375.27,254.79 L375.87,252.87 L376.48,250.78 L377.09,248.52 L377.70,246.07 L378.30,243.43 L378.91,240.60 L379.52,237.56 L380.13,234.31 L380.73,230.86 L381.34,227.20 L381.95,223.33 L382.56,219.26 L383.16,214.98 L383.77,210.50 L384.38,205.83 L384.99,200.98 L385.60,195.96 L386.20,190.79 L386.81,185.47 L387.42,180.04 L388.03,174.50 L388.63,168.89 L389.24,163.23 L389.85,157.53 L390.46,151.84 L391.06,146.18 L391.67,140.57 L392.28,135.06 L392.89,129.67 L393.49,124.43 L394.10,119.38 L394.71,114.55 L395.32,109.98 L395.92,105.68 L396.53,101.69 L397.14,98.05 L397.75,94.76 L398.35,91.87 L398.96,89.38 L399.57,87.32 L400.18,85.70 L400.78,84.54 L401.39,83.83 L402.00,83.60 L402.61,83.83 L403.22,84.54 L403.82,85.70 L404.43,87.32 L405.04,89.38 L405.65,91.87 L406.25,94.76 L406.86,98.05 L407.47,101.69 L408.08,105.68 L408.68,109.98 L409.29,114.55 L409.90,119.38 L410.51,124.43 L411.11,129.67 L411.72,135.06 L412.33,140.57 L412.94,146.18 L413.54,151.84 L414.15,157.53 L414.76,163.23 L415.37,168.89 L415.97,174.50 L416.58,180.04 L417.19,185.47 L417.80,190.79 L418.40,195.96 L419.01,200.98 L419.62,205.83 L420.23,210.50 L420.84,214.98 L421.44,219.26 L422.05,223.33 L422.66,227.20 L423.27,230.86 L423.87,234.31 L424.48,237.56 L425.09,240.60 L425.70,243.43 L426.30,246.07 L426.91,248.52 L427.52,250.78 L428.13,252.87 L428.73,254.79 L429.34,256.55 L429.95,258.16 L430.56,259.62 L431.16,260.95 L431.77,262.16 L432.38,263.24 L432.99,264.22 L433.59,265.10 L434.20,265.89 L434.81,266.59 L435.42,267.22 L436.02,267.77 L436.63,268.26 L437.24,268.70 L437.85,269.08 L438.46,269.41 L439.06,269.71 L439.67,269.96 L440.28,270.18 L440.89,270.38 L441.49,270.54 L442.10,270.69 L442.71,270.81 L443.32,270.92 L443.92,271.01 L444.53,271.09 L445.14,271.16 L445.75,271.21 L446.35,271.26 L446.96,271.30 L447.57,271.33 L448.18,271.36 L448.78,271.39 L449.39,271.41 L450.00,271.42 L450.61,271.44" fill="none" stroke="#000" stroke-opacity="0.10" stroke-width="1"/>
<path d="M417.06,271.46 L417.75,271.45 L418.44,271.43 L419.12,271.42 L419.81,271.40 L420.50,271.38 L421.18,271.36 L421.87,271.33 L422.56,271.30 L423.24,271.26 L423.93,271.21 L424.62,271.15 L425.30,271.09 L425.99,271.01 L426.68,270.92 L427.36,270.82 L428.05,270.70 L428.74,270.56 L429.42,270.41 L430.11,270.23 L430.80,270.02 L431.48,269.78 L432.17,269.51 L432.86,269.20 L433.54,268.85 L434.23,268.46 L434.92,268.01 L435.60,267.51 L436.29,266.95 L436.98,266.33 L437.66,265.63 L438.35,264.86 L439.04,264.01 L439.72,263.06 L440.41,262.02 L441.10,260.88 L441.78,259.63 L442.47,258.27 L443.16,256.78 L443.85,255.17 L444.53,253.43 L445.22,251.56 L445.91,249.54 L446.59,247.38 L447.28,245.08 L447.97,242.63 L448.65,240.03 L449.34,237.28 L450.03,234.38 L450.71,231.34 L451.40,228.16 L452.09,224.84 L452.77,221.40 L453.46,217.83 L454.15,214.15 L454.83,210.38 L455.52,206.52 L456.21,202.59 L456.89,198.60 L457.58,194.57 L458.27,190.53 L458.95,186.48 L459.64,182.46 L460.33,178.48 L461.01,174.56 L461.70,170.73 L462.39,167.01 L463.07,163.42 L463.76,159.99 L464.45,156.74 L465.13,153.69 L465.82,150.86 L466.51,148.26 L467.19,145.93 L467.88,143.87 L468.57,142.11 L469.25,140.64 L469.94,139.49 L470.63,138.67 L471.31,138.17 L472.00,138.00 L472.69,138.17 L473.37,138.67 L474.06,139.49 L474.75,140.64 L475.43,142.11 L476.12,143.87 L476.81,145.93 L477.49,148.26 L478.18,150.86 L478.87,153.69 L479.55,156.74 L480.24,159.99 L480.93,163.42 L481.61,167.01 L482.30,170.73 L482.99,174.56 L483.67,178.48 L484.36,182.46 L485.05,186.48 L485.73,190.53 L486.42,194.57 L487.11,198.60 L487.79,202.59 L488.48,206.52 L489.17,210.38 L489.85,214.15 L490.54,217.83 L491.23,221.40 L491.91,224.84 L492.60,228.16 L493.29,231.34 L493.97,234.38 L494.66,237.28 L495.35,240.03 L496.03,242.63 L496.72,245.08 L497.41,247.38 L498.09,249.54 L498.78,251.56 L499.47,253.43 L500.15,255.17 L500.84,256.78 L501.53,258.27 L502.22,259.63 L502.90,260.88 L503.59,262.02 L504.28,263.06 L504.96,264.01 L505.65,264.86 L506.34,265.63 L507.02,266.33 L507.71,266.95 L508.40,267.51 L509.08,268.01 L509.77,268.46 L510.46,268.85 L511.14,269.20 L511.83,269.51 L512.52,269.78 L513.20,270.02 L513.89,270.23 L514.58,270.41 L515.26,270.56 L515.95,270.70 L516.64,270.82 L517.32,270.92 L518.01,271.01 L518.70,271.09 L519.38,271.15 L520.07,271.21 L520.76,271.26 L521.44,271.30 L522.13,271.33 L522.82,271.36 L523.50,271.38 L524.19,271.40 L524.88,271.42 L525.56,271.43 L526.25,271.45 L526.94,271.46" fill="none" stroke="#000" stroke-opacity="0.10" stroke-width="1"/>
<path d="M483.16,271.46 L483.88,271.46 L484.60,271.45 L485.32,271.43 L486.04,271.42 L486.76,271.40 L487.48,271.38 L488.20,271.36 L488.91,271.33 L489.63,271.30 L490.35,271.26 L491.07,271.22 L491.79,271.16 L492.51,271.10 L493.23,271.03 L493.95,270.95 L494.67,270.85 L495.39,270.74 L496.11,270.61 L496.83,270.46 L497.55,270.29 L498.27,270.10 L498.98,269.88 L499.70,269.63 L500.42,269.34 L501.14,269.02 L501.86,268.66 L502.58,268.25 L503.30,267.80 L504.02,267.29 L504.74,266.72 L505.46,266.09 L506.18,265.39 L506.90,264.62 L507.62,263.77 L508.33,262.84 L509.05,261.83 L509.77,260.71 L510.49,259.50 L511.21,258.19 L511.93,256.78 L512.65,255.25 L513.37,253.61 L514.09,251.85 L514.81,249.97 L515.53,247.97 L516.25,245.85 L516.97,243.61 L517.68,241.25 L518.40,238.77 L519.12,236.18 L519.84,233.47 L520.56,230.67 L521.28,227.76 L522.00,224.76 L522.72,221.69 L523.44,218.54 L524.16,215.34 L524.88,212.09 L525.60,208.81 L526.32,205.51 L527.03,202.21 L527.75,198.93 L528.47,195.69 L529.19,192.49 L529.91,189.37 L530.63,186.34 L531.35,183.42 L532.07,180.62 L532.79,177.97 L533.51,175.48 L534.23,173.18 L534.95,171.06 L535.67,169.16 L536.38,167.49 L537.10,166.05 L537.82,164.85 L538.54,163.92 L539.26,163.24 L539.98,162.84 L540.70,162.70 L541.42,162.84 L542.14,163.24 L542.86,163.92 L543.58,164.85 L544.30,166.05 L545.02,167.49 L545.73,169.16 L546.45,171.06 L547.17,173.18 L547.89,175.48 L548.61,177.97 L549.33,180.62 L550.05,183.42 L550.77,186.34 L551.49,189.37 L552.21,192.49 L552.93,195.69 L553.65,198.93 L554.37,202.21 L555.08,205.51 L555.80,208.81 L556.52,212.09 L557.24,215.34 L557.96,218.54 L558.68,221.69 L559.40,224.76 L560.12,227.76 L560.84,230.67 L561.56,233.47 L562.28,236.18 L563.00,238.77 L563.72,241.25 L564.43,243.61 L565.15,245.85 L565.87,247.97 L566.59,249.97 L567.31,251.85 L568.03,253.61 L568.75,255.25 L569.47,256.78 L570.19,258.19 L570.91,259.50 L571.63,260.71 L572.35,261.83 L573.07,262.84 L573.78,263.77 L574.50,264.62 L575.22,265.39 L575.94,266.09 L576.66,266.72 L577.38,267.29 L578.10,267.80 L578.82,268.25 L579.54,268.66 L580.26,269.02 L580.98,269.34 L581.70,269.63 L582.42,269.88 L583.13,270.10 L583.85,270.29 L584.57,270.46 L585.29,270.61 L586.01,270.74 L586.73,270.85 L587.45,270.95 L588.17,271.03 L588.89,271.10 L589.61,271.16 L590.33,271.22 L591.05,271.26 L591.77,271.30 L592.49,271.33 L593.20,271.36 L593.92,271.38 L594.64,271.40 L595.36,271.42 L596.08,271.43 L596.80,271.45 L597.52,271.46 L598.24,271.46" fill="none" stroke="#000" stroke-opacity="0.10" stroke-width="1"/>
</g>
<path d="M18.00,196.00 L19.48,193.84 L20.96,188.62 L22.44,181.52 L23.92,172.98 L25.40,164.23 L26.88,155.29 L28.35,145.46 L29.83,134.77 L31.31,123.41 L32.79,111.94 L34.27,100.41 L35.75,88.70 L37.23,77.72 L38.71,67.63 L40.19,58.39 L41.67,50.04 L43.15,43.50 L44.62,38.37 L46.10,34.48 L47.58,31.48 L49.06,29.58 L50.54,27.99 L52.02,26.84 L53.50,26.40 L55.07,26.82 L56.64,27.90 L58.21,29.39 L59.78,31.16 L61.35,33.99 L62.92,37.64 L64.50,42.45 L66.07,48.59 L67.64,56.43 L69.21,65.10 L70.78,74.57 L72.35,84.88 L73.92,95.87 L75.49,106.69 L77.06,117.46 L78.63,128.13 L80.20,138.16 L81.78,147.39 L83.35,155.78 L84.92,163.99 L86.49,172.01 L88.06,178.67 L89.63,183.57 L91.20,185.60 L92.64,183.57 L94.08,178.67 L95.53,172.01 L96.97,163.99 L98.41,155.78 L99.85,147.39 L101.29,138.16 L102.73,128.13 L104.17,117.46 L105.62,106.69 L107.06,95.87 L108.50,84.88 L109.94,74.57 L111.38,65.10 L112.83,56.43 L114.27,48.59 L115.71,42.45 L117.15,37.64 L118.59,33.99 L120.03,31.16 L121.47,29.39 L122.92,27.90 L124.36,26.82 L125.80,26.40 L127.25,26.83 L128.70,27.95 L130.15,29.51 L131.60,31.35 L133.05,34.29 L134.50,38.08 L135.95,43.08 L137.40,49.47 L138.85,57.62 L140.30,66.63 L141.75,76.48 L143.20,87.19 L144.65,98.62 L146.10,109.87 L147.55,121.06 L149.00,132.15 L150.45,142.59 L151.90,152.18 L153.35,160.90 L154.80,169.44 L156.25,177.77 L157.70,184.70 L159.15,189.79 L160.60,191.90 L162.02,189.79 L163.44,184.69 L164.86,177.76 L166.28,169.41 L167.70,160.86 L169.12,152.13 L170.55,142.53 L171.97,132.08 L173.39,120.97 L174.81,109.77 L176.23,98.51 L177.65,87.06 L179.07,76.34 L180.49,66.48 L181.91,57.46 L183.33,49.29 L184.75,42.91 L186.17,37.90 L187.60,34.10 L189.02,31.16 L190.44,29.31 L191.86,27.76 L193.28,26.63 L194.70,26.20 L196.09,26.63 L197.47,27.76 L198.86,29.32 L200.25,31.18 L201.64,34.13 L203.02,37.95 L204.41,42.98 L205.80,49.39 L207.19,57.59 L208.57,66.65 L209.96,76.55 L211.35,87.32 L212.74,98.81 L214.12,110.12 L215.51,121.38 L216.90,132.53 L218.29,143.02 L219.68,152.66 L221.06,161.43 L222.45,170.01 L223.84,178.40 L225.22,185.36 L226.61,190.48 L228.00,192.60 L229.41,190.48 L230.82,185.34 L232.24,178.37 L233.65,169.97 L235.06,161.37 L236.47,152.59 L237.89,142.93 L239.30,132.42 L240.71,121.25 L242.12,109.97 L243.54,98.64 L244.95,87.13 L246.36,76.34 L247.77,66.43 L249.19,57.34 L250.60,49.13 L252.01,42.71 L253.42,37.67 L254.84,33.84 L256.25,30.89 L257.66,29.03 L259.07,27.47 L260.49,26.34 L261.90,25.90 L263.28,26.31 L264.66,27.37 L266.04,28.84 L267.42,30.59 L268.80,33.37 L270.17,36.96 L271.55,41.70 L272.93,47.74 L274.31,55.46 L275.69,63.99 L277.07,73.32 L278.45,83.46 L279.83,94.28 L281.21,104.93 L282.59,115.53 L283.97,126.03 L285.35,135.91 L286.73,144.99 L288.10,153.25 L289.48,161.33 L290.86,169.23 L292.24,175.78 L293.62,180.61 L295.00,182.60 L296.40,180.61 L297.79,175.78 L299.19,169.23 L300.58,161.34 L301.98,153.26 L303.38,145.01 L304.77,135.94 L306.17,126.06 L307.56,115.57 L308.96,104.98 L310.35,94.33 L311.75,83.52 L313.15,73.39 L314.54,64.07 L315.94,55.54 L317.33,47.82 L318.73,41.79 L320.12,37.05 L321.52,33.46 L322.92,30.69 L324.31,28.94 L325.71,27.47 L327.10,26.41 L328.50,26.00 L329.88,26.41 L331.25,27.49 L332.62,28.97 L334.00,30.73 L335.38,33.54 L336.75,37.17 L338.12,41.95 L339.50,48.05 L340.88,55.84 L342.25,64.46 L343.62,73.87 L345.00,84.11 L346.38,95.03 L347.75,105.79 L349.12,116.48 L350.50,127.09 L351.88,137.06 L353.25,146.23 L354.62,154.57 L356.00,162.73 L357.38,170.70 L358.75,177.31 L360.12,182.19 L361.50,184.20 L362.77,182.27 L364.03,177.58 L365.30,171.23 L366.57,163.57 L367.83,155.73 L369.10,147.72 L370.37,138.91 L371.63,129.32 L372.90,119.14 L374.17,108.86 L375.43,98.53 L376.70,88.03 L377.97,78.20 L379.23,69.15 L380.50,60.87 L381.77,53.38 L383.03,47.52 L384.30,42.93 L385.57,39.44 L386.83,36.75 L388.10,35.05 L389.37,33.63 L390.63,32.60 L391.90,32.20 L393.39,32.73 L394.88,34.12 L396.36,36.03 L397.85,38.31 L399.34,41.92 L400.82,46.61 L402.31,52.78 L403.80,60.64 L405.29,70.70 L406.77,81.82 L408.26,93.96 L409.75,107.17 L411.24,121.26 L412.73,135.13 L414.21,148.94 L415.70,162.62 L417.19,175.48 L418.68,187.31 L420.16,198.07 L421.65,208.60 L423.14,218.88 L424.62,227.41 L426.11,233.70 L427.60,236.30 L429.01,233.73 L430.43,227.52 L431.84,219.08 L433.25,208.91 L434.66,198.50 L436.08,187.87 L437.49,176.17 L438.90,163.45 L440.31,149.92 L441.73,136.27 L443.14,122.56 L444.55,108.62 L445.96,95.57 L447.38,83.56 L448.79,72.56 L450.20,62.62 L451.61,54.84 L453.02,48.75 L454.44,44.12 L455.85,40.54 L457.26,38.29 L458.68,36.40 L460.09,35.03 L461.50,34.50 L463.00,34.99 L464.50,36.27 L466.00,38.05 L467.50,40.15 L469.00,43.50 L470.50,47.83 L472.00,53.54 L473.50,60.83 L475.00,70.13 L476.50,80.42 L478.00,91.66 L479.50,103.89 L481.00,116.93 L482.50,129.77 L484.00,142.54 L485.50,155.20 L487.00,167.11 L488.50,178.06 L490.00,188.01 L491.50,197.76 L493.00,207.28 L494.50,215.18 L496.00,221.00 L497.50,223.40 L498.96,221.07 L500.43,215.45 L501.89,207.81 L503.35,198.60 L504.81,189.18 L506.27,179.55 L507.74,168.96 L509.20,157.44 L510.66,145.20 L512.12,132.84 L513.59,120.42 L515.05,107.81 L516.51,95.99 L517.98,85.12 L519.44,75.16 L520.90,66.16 L522.36,59.12 L523.83,53.60 L525.29,49.41 L526.75,46.17 L528.21,44.13 L529.68,42.42 L531.14,41.18 L532.60,40.70 L534.02,41.08 L535.44,42.11 L536.86,43.59 L538.28,45.43 L539.70,48.16 L541.12,51.63 L542.55,56.06 L543.97,61.54 L545.39,68.35 L546.81,75.82 L548.23,83.92 L549.65,92.64 L551.07,101.86 L552.49,110.94 L553.91,119.94 L555.33,128.80 L556.75,137.12 L558.18,144.76 L559.60,151.67 L561.02,158.33 L562.44,164.70 L563.86,169.94 L565.28,173.75 L566.70,175.30 L568.14,174.23 L569.58,171.55 L571.01,167.76 L572.45,163.05 L573.89,157.96 L575.33,152.52 L576.76,146.47 L578.20,139.86 L579.64,132.79 L581.08,125.55 L582.51,118.20 L583.95,110.73 L585.39,103.56 L586.83,96.81 L588.26,90.49 L589.70,84.68 L591.14,79.80 L592.58,75.71 L594.01,72.37 L595.45,69.68 L596.89,67.74 L598.33,66.24 L599.76,65.25 L601.20,64.90 L602.80,65.11 L604.39,65.74 L605.99,66.76 L607.58,68.15 L609.18,69.92 L610.78,72.03 L612.37,74.46 L613.97,77.18 L615.56,80.15 L617.16,83.30 L618.75,86.58 L620.35,89.94 L621.95,93.32 L623.54,96.64 L625.14,99.86 L626.73,102.93 L628.33,105.77 L629.92,108.35 L631.52,110.63 L633.12,112.58 L634.71,114.19 L636.31,115.38 L637.90,116.13 L639.50,116.40 L642.56,115.57 L645.62,113.45 L648.69,110.39 L651.75,106.54 L654.81,102.29 L657.88,97.66 L660.94,92.48 L664.00,86.81 L667.06,80.74 L670.12,74.49 L673.19,68.12 L676.25,61.64 L679.31,55.38 L682.38,49.42 L685.44,43.82 L688.50,38.63 L691.56,34.17 L694.62,30.37 L697.69,27.21 L700.75,24.63 L703.81,22.72 L706.88,21.26 L709.94,20.33 L713.00,20.00" fill="none" stroke="#8800ff" stroke-width="3"/>
<path d="M24.00,262.00 L25.43,261.58 L26.86,260.57 L28.29,259.13 L29.72,256.63 L31.15,253.45 L32.58,249.81 L34.00,245.25 L35.43,239.64 L36.86,231.94 L38.29,222.43 L39.72,211.46 L41.15,199.49 L42.58,186.66 L44.01,172.92 L45.44,158.24 L46.87,143.43 L48.30,129.06 L49.72,115.23 L51.15,103.19 L52.58,93.64 L54.01,84.34 L55.44,77.91 L56.87,74.25 L58.30,72.00 L59.69,74.24 L61.08,77.89 L62.47,84.30 L63.87,93.56 L65.26,103.08 L66.65,115.07 L68.04,128.85 L69.43,143.17 L70.83,157.93 L72.22,172.55 L73.61,186.24 L75.00,199.02 L76.39,210.94 L77.78,221.87 L79.17,231.35 L80.57,239.02 L81.96,244.61 L83.35,249.16 L84.74,252.78 L86.13,255.95 L87.53,258.44 L88.92,259.88 L90.31,260.88 L91.70,261.30 L93.14,260.88 L94.58,259.88 L96.01,258.45 L97.45,255.97 L98.89,252.81 L100.33,249.20 L101.76,244.67 L103.20,239.09 L104.64,231.44 L106.08,222.00 L107.51,211.10 L108.95,199.22 L110.39,186.47 L111.83,172.83 L113.26,158.25 L114.70,143.54 L116.14,129.27 L117.58,115.54 L119.01,103.58 L120.45,94.09 L121.89,84.86 L123.33,78.47 L124.76,74.84 L126.20,72.60 L127.68,74.85 L129.16,78.51 L130.64,84.95 L132.12,94.25 L133.60,103.81 L135.07,115.86 L136.55,129.69 L138.03,144.07 L139.51,158.89 L140.99,173.58 L142.47,187.32 L143.95,200.16 L145.43,212.13 L146.91,223.11 L148.39,232.62 L149.87,240.33 L151.35,245.94 L152.82,250.51 L154.30,254.14 L155.78,257.33 L157.26,259.83 L158.74,261.27 L160.22,262.28 L161.70,262.70 L163.10,262.28 L164.49,261.28 L165.89,259.84 L167.28,257.35 L168.68,254.18 L170.07,250.56 L171.47,246.01 L172.87,240.42 L174.26,232.75 L175.66,223.27 L177.05,212.34 L178.45,200.42 L179.85,187.64 L181.24,173.95 L182.64,159.33 L184.03,144.57 L185.43,130.25 L186.82,116.47 L188.22,104.48 L189.62,94.96 L191.01,85.70 L192.41,79.29 L193.80,75.64 L195.20,73.40 L196.64,75.65 L198.07,79.32 L199.51,85.76 L200.95,95.07 L202.39,104.62 L203.82,116.68 L205.26,130.52 L206.70,144.91 L208.14,159.73 L209.57,174.43 L211.01,188.18 L212.45,201.02 L213.89,213.00 L215.32,223.98 L216.76,233.50 L218.20,241.21 L219.64,246.83 L221.07,251.40 L222.51,255.04 L223.95,258.23 L225.39,260.73 L226.82,262.17 L228.26,263.18 L229.70,263.60 L231.11,263.17 L232.52,262.16 L233.92,260.71 L235.33,258.19 L236.74,254.97 L238.15,251.31 L239.56,246.70 L240.97,241.04 L242.38,233.27 L243.78,223.67 L245.19,212.61 L246.60,200.53 L248.01,187.58 L249.42,173.73 L250.82,158.92 L252.23,143.97 L253.64,129.47 L255.05,115.52 L256.46,103.37 L257.87,93.74 L259.27,84.35 L260.68,77.86 L262.09,74.17 L263.50,71.90 L264.96,74.18 L266.43,77.89 L267.89,84.40 L269.35,93.82 L270.81,103.49 L272.27,115.68 L273.74,129.68 L275.20,144.24 L276.66,159.23 L278.12,174.10 L279.59,188.01 L281.05,201.00 L282.51,213.12 L283.98,224.23 L285.44,233.86 L286.90,241.66 L288.36,247.34 L289.83,251.96 L291.29,255.64 L292.75,258.87 L294.21,261.40 L295.68,262.86 L297.14,263.87 L298.60,264.30 L300.01,263.89 L301.42,262.92 L302.83,261.52 L304.23,259.09 L305.64,256.00 L307.05,252.48 L308.46,248.05 L309.87,242.61 L311.27,235.14 L312.68,225.91 L314.09,215.27 L315.50,203.67 L316.91,191.22 L318.32,177.90 L319.73,163.66 L321.13,149.29 L322.54,135.35 L323.95,121.94 L325.36,110.26 L326.77,100.99 L328.17,91.97 L329.58,85.73 L330.99,82.18 L332.40,80.00 L333.84,82.19 L335.27,85.76 L336.71,92.02 L338.15,101.07 L339.59,110.37 L341.02,122.09 L342.46,135.56 L343.90,149.55 L345.34,163.97 L346.77,178.27 L348.21,191.64 L349.65,204.13 L351.09,215.79 L352.52,226.47 L353.96,235.73 L355.40,243.23 L356.84,248.69 L358.27,253.14 L359.71,256.67 L361.15,259.77 L362.59,262.21 L364.02,263.61 L365.46,264.59 L366.90,265.00 L368.36,264.60 L369.82,263.64 L371.29,262.26 L372.75,259.88 L374.21,256.84 L375.67,253.37 L377.14,249.01 L378.60,243.65 L380.06,236.30 L381.52,227.22 L382.99,216.75 L384.45,205.32 L385.91,193.07 L387.38,179.96 L388.84,165.94 L390.30,151.80 L391.76,138.08 L393.23,124.88 L394.69,113.38 L396.15,104.26 L397.61,95.39 L399.07,89.24 L400.54,85.75 L402.00,83.60 L403.39,85.73 L404.77,89.20 L406.16,95.29 L407.55,104.10 L408.94,113.15 L410.32,124.56 L411.71,137.66 L413.10,151.27 L414.49,165.31 L415.88,179.21 L417.26,192.22 L418.65,204.38 L420.04,215.72 L421.43,226.11 L422.81,235.12 L424.20,242.41 L425.59,247.73 L426.98,252.06 L428.36,255.50 L429.75,258.52 L431.14,260.88 L432.53,262.25 L433.91,263.20 L435.30,263.60 L436.83,263.26 L438.36,262.39 L439.89,261.07 L441.42,258.97 L442.95,256.32 L444.48,253.25 L446.00,249.53 L447.53,245.13 L449.06,239.53 L450.59,232.92 L452.12,225.49 L453.65,217.51 L455.18,209.09 L456.71,200.24 L458.24,190.96 L459.77,181.71 L461.30,172.80 L462.82,164.32 L464.35,156.92 L465.88,151.00 L467.41,145.41 L468.94,141.52 L470.47,139.28 L472.00,138.00 L473.45,139.24 L474.91,141.42 L476.36,145.21 L477.82,150.66 L479.27,156.44 L480.73,163.66 L482.18,171.93 L483.63,180.64 L485.09,189.68 L486.54,198.76 L488.00,207.43 L489.45,215.70 L490.90,223.54 L492.36,230.85 L493.81,237.39 L495.27,242.93 L496.72,247.32 L498.17,251.03 L499.63,254.11 L501.08,256.76 L502.54,258.85 L503.99,260.19 L505.45,261.06 L506.90,261.40 L508.31,261.09 L509.72,260.22 L511.12,258.85 L512.53,256.83 L513.94,254.27 L515.35,251.28 L516.76,247.75 L518.17,243.69 L519.58,238.86 L520.98,233.37 L522.39,227.38 L523.80,221.06 L525.21,214.50 L526.62,207.74 L528.02,200.82 L529.43,194.01 L530.84,187.52 L532.25,181.43 L533.66,176.10 L535.07,171.78 L536.48,167.87 L537.88,165.12 L539.29,163.52 L540.70,162.70 L542.00,163.30 L543.31,164.58 L544.61,166.75 L545.92,169.81 L547.22,173.28 L548.53,177.53 L549.83,182.40 L551.13,187.62 L552.44,193.13 L553.74,198.78 L555.05,204.38 L556.35,209.89 L557.65,215.24 L558.96,220.37 L560.26,225.13 L561.57,229.42 L562.87,233.14 L564.17,236.41 L565.48,239.21 L566.78,241.59 L568.09,243.48 L569.39,244.79 L570.70,245.61 L572.00,245.90 L573.70,245.67 L575.40,244.99 L577.10,243.89 L578.80,242.35 L580.50,240.40 L582.20,238.11 L583.90,235.47 L585.60,232.51 L587.30,229.24 L589.00,225.71 L590.70,222.00 L592.40,218.18 L594.10,214.31 L595.80,210.45 L597.50,206.65 L599.20,203.00 L600.90,199.58 L602.60,196.45 L604.30,193.70 L606.00,191.42 L607.70,189.51 L609.40,188.15 L611.10,187.33 L612.80,187.00 L615.68,187.60 L618.57,188.87 L621.45,191.03 L624.33,194.08 L627.22,197.55 L630.10,201.79 L632.98,206.63 L635.87,211.84 L638.75,217.33 L641.63,222.97 L644.00,227.56" fill="none" stroke="#ff0000" stroke-width="3"/>
<line x1="125.8" y1="26" x2="125.8" y2="63.3" stroke="#00ffff" stroke-width="2.4"/>
<line x1="194.8" y1="26" x2="194.8" y2="62.8" stroke="#00ffff" stroke-width="2.4"/>
<line x1="261.9" y1="26" x2="261.9" y2="61" stroke="#00ffff" stroke-width="2.4"/>
<line x1="328.5" y1="26" x2="328.5" y2="61.5" stroke="#00ffff" stroke-width="2.4"/>
<line x1="392.3" y1="32" x2="392.3" y2="66.8" stroke="#00ffff" stroke-width="2.4"/>
<line x1="461.5" y1="34.5" x2="461.5" y2="71.2" stroke="#00ffff" stroke-width="2.4"/>
<line x1="532.6" y1="40.7" x2="532.6" y2="76.6" stroke="#00ffff" stroke-width="2.4"/>
<line x1="600.6" y1="64.9" x2="600.6" y2="99" stroke="#00ffff" stroke-width="2.4"/>
<line x1="91.7" y1="225.3" x2="91.7" y2="261.3" stroke="#ff00ff" stroke-width="2.4"/>
<line x1="161.7" y1="227" x2="161.7" y2="262.7" stroke="#ff00ff" stroke-width="2.4"/>
<line x1="229.9" y1="228.6" x2="229.9" y2="263.6" stroke="#ff00ff" stroke-width="2.4"/>
<line x1="298.8" y1="228.6" x2="298.8" y2="264.3" stroke="#ff00ff" stroke-width="2.4"/>
<line x1="366.9" y1="230" x2="366.9" y2="265" stroke="#ff00ff" stroke-width="2.4"/>
<line x1="435.8" y1="227.6" x2="435.8" y2="263.6" stroke="#ff00ff" stroke-width="2.4"/>
<line x1="506.9" y1="225.8" x2="506.9" y2="261.4" stroke="#ff00ff" stroke-width="2.4"/>
<line x1="572.5" y1="210.3" x2="572.5" y2="245.9" stroke="#ff00ff" stroke-width="2.4"/>
<line x1="400" y1="47.5" x2="454" y2="47.5" stroke="#00ffff" stroke-width="3"/>
<path d="M393.3,47.5 L407.5,42.8 L407.5,52.2 Z" fill="#00ffff"/><path d="M460.5,47.5 L446.3,42.8 L446.3,52.2 Z" fill="#00ffff"/>
<line x1="306" y1="238.7" x2="360" y2="238.7" stroke="#ff00ff" stroke-width="3"/>
<path d="M300.2,238.7 L314.5,234 L314.5,243.4 Z" fill="#ff00ff"/><path d="M366.2,238.7 L351.9,234 L351.9,243.4 Z" fill="#ff00ff"/>
</g>
<rect x="59.6" y="16.3" width="618.9" height="258.7" fill="none" stroke="#000" stroke-width="2.6"/>
<line x1="91.7" y1="17.6" x2="91.7" y2="26.6" stroke="#000" stroke-width="1.6"/>
<line x1="91.7" y1="273.7" x2="91.7" y2="264.7" stroke="#000" stroke-width="1.6"/>
<line x1="140.57" y1="17.6" x2="140.57" y2="22.1" stroke="#000" stroke-width="1.6"/>
<line x1="140.57" y1="273.7" x2="140.57" y2="269.2" stroke="#000" stroke-width="1.6"/>
<line x1="189.44" y1="17.6" x2="189.44" y2="26.6" stroke="#000" stroke-width="1.6"/>
<line x1="189.44" y1="273.7" x2="189.44" y2="264.7" stroke="#000" stroke-width="1.6"/>
<line x1="238.31" y1="17.6" x2="238.31" y2="22.1" stroke="#000" stroke-width="1.6"/>
<line x1="238.31" y1="273.7" x2="238.31" y2="269.2" stroke="#000" stroke-width="1.6"/>
<line x1="287.18" y1="17.6" x2="287.18" y2="26.6" stroke="#000" stroke-width="1.6"/>
<line x1="287.18" y1="273.7" x2="287.18" y2="264.7" stroke="#000" stroke-width="1.6"/>
<line x1="336.05" y1="17.6" x2="336.05" y2="22.1" stroke="#000" stroke-width="1.6"/>
<line x1="336.05" y1="273.7" x2="336.05" y2="269.2" stroke="#000" stroke-width="1.6"/>
<line x1="384.91999999999996" y1="17.6" x2="384.91999999999996" y2="26.6" stroke="#000" stroke-width="1.6"/>
<line x1="384.91999999999996" y1="273.7" x2="384.91999999999996" y2="264.7" stroke="#000" stroke-width="1.6"/>
<line x1="433.78999999999996" y1="17.6" x2="433.78999999999996" y2="22.1" stroke="#000" stroke-width="1.6"/>
<line x1="433.78999999999996" y1="273.7" x2="433.78999999999996" y2="269.2" stroke="#000" stroke-width="1.6"/>
<line x1="482.65999999999997" y1="17.6" x2="482.65999999999997" y2="26.6" stroke="#000" stroke-width="1.6"/>
<line x1="482.65999999999997" y1="273.7" x2="482.65999999999997" y2="264.7" stroke="#000" stroke-width="1.6"/>
<line x1="531.53" y1="17.6" x2="531.53" y2="22.1" stroke="#000" stroke-width="1.6"/>
<line x1="531.53" y1="273.7" x2="531.53" y2="269.2" stroke="#000" stroke-width="1.6"/>
<line x1="580.4" y1="17.6" x2="580.4" y2="26.6" stroke="#000" stroke-width="1.6"/>
<line x1="580.4" y1="273.7" x2="580.4" y2="264.7" stroke="#000" stroke-width="1.6"/>
<line x1="629.27" y1="17.6" x2="629.27" y2="22.1" stroke="#000" stroke-width="1.6"/>
<line x1="629.27" y1="273.7" x2="629.27" y2="269.2" stroke="#000" stroke-width="1.6"/>
<text transform="translate(0.40,20.40) scale(1.0000,1)" font-family="Liberation Sans, sans-serif" font-size="35" font-weight="bold" fill="#000" >a</text>
<text transform="translate(40.00,229.77) rotate(-90) scale(1.0522,1)" font-family="Liberation Sans, sans-serif" font-size="25" fill="#000">Intensity (a.u.)</text>
<text transform="translate(215.59,73.00) scale(1.0781,1)" font-family="Liberation Sans, sans-serif" font-size="25" fill="#fff" >Sr</text>
<rect x="246" y="235" width="37" height="31" fill="#ffff4d"/>
<text transform="translate(246.85,259.60) scale(1.0761,1)" font-family="Liberation Sans, sans-serif" font-size="25" fill="#000" >Ru</text>
<text transform="translate(484.00,72.80) scale(1.2000,1)" font-family="Liberation Sans, sans-serif" font-size="25" fill="#000" >Bi</text>
<rect x="525.5" y="239" width="33" height="27" fill="#4dff4d"/>
<text transform="translate(525.81,259.00) scale(1.0962,1)" font-family="Liberation Sans, sans-serif" font-size="25" fill="#000" >Fe</text>
<rect x="315" y="242" width="37" height="27" fill="#ffff4d"/>
<text transform="translate(316.52,262.00) scale(1.0000,1)" font-family="Liberation Sans, sans-serif" font-size="26" font-style="italic" fill="#000" >c</text>
<text transform="translate(328.98,268.00) scale(1.0523,1)" font-family="Liberation Sans, sans-serif" font-size="15.5" fill="#000" >BB</text>
<text transform="translate(410.12,68.50) scale(1.0000,1)" font-family="Liberation Sans, sans-serif" font-size="26" font-style="italic" fill="#000" >c</text>
<text transform="translate(422.50,75.30) scale(1.0618,1)" font-family="Liberation Sans, sans-serif" font-size="15.5" fill="#000" >AA</text>
<rect x="594" y="121" width="70" height="24" fill="#fff"/>
<text transform="translate(596.07,142.90) scale(1.0176,1)" font-family="Liberation Sans, sans-serif" font-size="25.5" fill="#8c00d2" >A-site</text>
<rect x="594" y="157" width="70" height="28.5" fill="#fff"/>
<text transform="translate(594.39,179.10) scale(1.0408,1)" font-family="Liberation Sans, sans-serif" font-size="25.5" fill="#e60000" >B-site</text>
<rect x="96" y="331.8" width="390" height="316.9" fill="#dcdcdc"/>
<line x1="655.3" y1="333.3" x2="655.3" y2="345.3" stroke="#000" stroke-width="2.8"/>
<line x1="655.3" y1="647.2" x2="655.3" y2="635.2" stroke="#000" stroke-width="2.8"/>
<text transform="translate(655.30,679.7) scale(1.05,1)" font-family="Liberation Sans, sans-serif" font-size="25" text-anchor="middle">0</text>
<line x1="608.7" y1="333.3" x2="608.7" y2="339.8" stroke="#000" stroke-width="2.8"/>
<line x1="608.7" y1="647.2" x2="608.7" y2="640.7" stroke="#000" stroke-width="2.8"/>
<line x1="562.1" y1="333.3" x2="562.1" y2="345.3" stroke="#000" stroke-width="2.8"/>
<line x1="562.1" y1="647.2" x2="562.1" y2="635.2" stroke="#000" stroke-width="2.8"/>
<text transform="translate(562.10,679.7) scale(1.05,1)" font-family="Liberation Sans, sans-serif" font-size="25" text-anchor="middle">2</text>
<line x1="515.5" y1="333.3" x2="515.5" y2="339.8" stroke="#000" stroke-width="2.8"/>
<line x1="515.5" y1="647.2" x2="515.5" y2="640.7" stroke="#000" stroke-width="2.8"/>
<line x1="468.9" y1="333.3" x2="468.9" y2="345.3" stroke="#000" stroke-width="2.8"/>
<line x1="468.9" y1="647.2" x2="468.9" y2="635.2" stroke="#000" stroke-width="2.8"/>
<text transform="translate(468.90,679.7) scale(1.05,1)" font-family="Liberation Sans, sans-serif" font-size="25" text-anchor="middle">4</text>
<line x1="422.3" y1="333.3" x2="422.3" y2="339.8" stroke="#000" stroke-width="2.8"/>
<line x1="422.3" y1="647.2" x2="422.3" y2="640.7" stroke="#000" stroke-width="2.8"/>
<line x1="375.7" y1="333.3" x2="375.7" y2="345.3" stroke="#000" stroke-width="2.8"/>
<line x1="375.7" y1="647.2" x2="375.7" y2="635.2" stroke="#000" stroke-width="2.8"/>
<text transform="translate(375.70,679.7) scale(1.05,1)" font-family="Liberation Sans, sans-serif" font-size="25" text-anchor="middle">6</text>
<line x1="329.1" y1="333.3" x2="329.1" y2="339.8" stroke="#000" stroke-width="2.8"/>
<line x1="329.1" y1="647.2" x2="329.1" y2="640.7" stroke="#000" stroke-width="2.8"/>
<line x1="282.5" y1="333.3" x2="282.5" y2="345.3" stroke="#000" stroke-width="2.8"/>
<line x1="282.5" y1="647.2" x2="282.5" y2="635.2" stroke="#000" stroke-width="2.8"/>
<text transform="translate(282.50,679.7) scale(1.05,1)" font-family="Liberation Sans, sans-serif" font-size="25" text-anchor="middle">8</text>
<line x1="235.9" y1="333.3" x2="235.9" y2="339.8" stroke="#000" stroke-width="2.8"/>
<line x1="235.9" y1="647.2" x2="235.9" y2="640.7" stroke="#000" stroke-width="2.8"/>
<line x1="189.3" y1="333.3" x2="189.3" y2="345.3" stroke="#000" stroke-width="2.8"/>
<line x1="189.3" y1="647.2" x2="189.3" y2="635.2" stroke="#000" stroke-width="2.8"/>
<text transform="translate(189.30,679.7) scale(1.05,1)" font-family="Liberation Sans, sans-serif" font-size="25" text-anchor="middle">10</text>
<line x1="142.7" y1="333.3" x2="142.7" y2="339.8" stroke="#000" stroke-width="2.8"/>
<line x1="142.7" y1="647.2" x2="142.7" y2="640.7" stroke="#000" stroke-width="2.8"/>
<line x1="96.1" y1="333.3" x2="96.1" y2="345.3" stroke="#000" stroke-width="2.8"/>
<line x1="96.1" y1="647.2" x2="96.1" y2="635.2" stroke="#000" stroke-width="2.8"/>
<text transform="translate(96.10,679.7) scale(1.05,1)" font-family="Liberation Sans, sans-serif" font-size="25" text-anchor="middle">12</text>
<line x1="97.5" y1="625.8" x2="110.5" y2="625.8" stroke="#000" stroke-width="2.8"/>
<line x1="677" y1="625.8" x2="664" y2="625.8" stroke="#000" stroke-width="2.8"/>
<text transform="translate(84.9,633.80) scale(1.05,1)" font-family="Liberation Sans, sans-serif" font-size="25" text-anchor="end">0</text>
<line x1="97.5" y1="579.9" x2="104.0" y2="579.9" stroke="#000" stroke-width="2.8"/>
<line x1="677" y1="579.9" x2="670.5" y2="579.9" stroke="#000" stroke-width="2.8"/>
<line x1="97.5" y1="534.0" x2="110.5" y2="534.0" stroke="#000" stroke-width="2.8"/>
<line x1="677" y1="534.0" x2="664" y2="534.0" stroke="#000" stroke-width="2.8"/>
<text transform="translate(84.9,542.00) scale(1.05,1)" font-family="Liberation Sans, sans-serif" font-size="25" text-anchor="end">20</text>
<line x1="97.5" y1="488.1" x2="104.0" y2="488.1" stroke="#000" stroke-width="2.8"/>
<line x1="677" y1="488.1" x2="670.5" y2="488.1" stroke="#000" stroke-width="2.8"/>
<line x1="97.5" y1="442.2" x2="110.5" y2="442.2" stroke="#000" stroke-width="2.8"/>
<line x1="677" y1="442.2" x2="664" y2="442.2" stroke="#000" stroke-width="2.8"/>
<text transform="translate(84.9,450.20) scale(1.05,1)" font-family="Liberation Sans, sans-serif" font-size="25" text-anchor="end">40</text>
<line x1="97.5" y1="396.3" x2="104.0" y2="396.3" stroke="#000" stroke-width="2.8"/>
<line x1="677" y1="396.3" x2="670.5" y2="396.3" stroke="#000" stroke-width="2.8"/>
<line x1="97.5" y1="350.4" x2="110.5" y2="350.4" stroke="#000" stroke-width="2.8"/>
<line x1="677" y1="350.4" x2="664" y2="350.4" stroke="#000" stroke-width="2.8"/>
<text transform="translate(84.9,358.40) scale(1.05,1)" font-family="Liberation Sans, sans-serif" font-size="25" text-anchor="end">60</text>
<g clip-path="url(#cb)">
<polyline points="142.7,611.1 189.3,612.9 235.9,611.1 282.5,607.6 329.1,607.0 375.7,612.9 422.3,590.5 468.9,566.6 515.5,477.1 562.1,381.6 608.7,411.0" fill="none" stroke="#ff0000" stroke-width="4.1"/>
<line x1="142.7" y1="596.9" x2="142.7" y2="625.3" stroke="#ff0000" stroke-width="3.6"/>
<line x1="135.1" y1="596.9" x2="150.3" y2="596.9" stroke="#ff0000" stroke-width="4"/>
<line x1="135.1" y1="625.3" x2="150.3" y2="625.3" stroke="#ff0000" stroke-width="4"/>
<rect x="133.5" y="601.9" width="18.4" height="18.4" fill="#fff" stroke="#ff0000" stroke-width="3.4"/>
<line x1="189.3" y1="598.7" x2="189.3" y2="627.2" stroke="#ff0000" stroke-width="3.6"/>
<line x1="181.7" y1="598.7" x2="196.9" y2="598.7" stroke="#ff0000" stroke-width="4"/>
<line x1="181.7" y1="627.2" x2="196.9" y2="627.2" stroke="#ff0000" stroke-width="4"/>
<rect x="180.1" y="603.7" width="18.4" height="18.4" fill="#fff" stroke="#ff0000" stroke-width="3.4"/>
<line x1="235.9" y1="596.9" x2="235.9" y2="625.3" stroke="#ff0000" stroke-width="3.6"/>
<line x1="228.3" y1="596.9" x2="243.5" y2="596.9" stroke="#ff0000" stroke-width="4"/>
<line x1="228.3" y1="625.3" x2="243.5" y2="625.3" stroke="#ff0000" stroke-width="4"/>
<rect x="226.7" y="601.9" width="18.4" height="18.4" fill="#fff" stroke="#ff0000" stroke-width="3.4"/>
<line x1="282.5" y1="593.4" x2="282.5" y2="621.9" stroke="#ff0000" stroke-width="3.6"/>
<line x1="274.9" y1="593.4" x2="290.1" y2="593.4" stroke="#ff0000" stroke-width="4"/>
<line x1="274.9" y1="621.9" x2="290.1" y2="621.9" stroke="#ff0000" stroke-width="4"/>
<rect x="273.3" y="598.4" width="18.4" height="18.4" fill="#fff" stroke="#ff0000" stroke-width="3.4"/>
<line x1="329.1" y1="592.8" x2="329.1" y2="621.2" stroke="#ff0000" stroke-width="3.6"/>
<line x1="321.5" y1="592.8" x2="336.7" y2="592.8" stroke="#ff0000" stroke-width="4"/>
<line x1="321.5" y1="621.2" x2="336.7" y2="621.2" stroke="#ff0000" stroke-width="4"/>
<rect x="319.9" y="597.8" width="18.4" height="18.4" fill="#fff" stroke="#ff0000" stroke-width="3.4"/>
<line x1="375.7" y1="598.7" x2="375.7" y2="627.2" stroke="#ff0000" stroke-width="3.6"/>
<line x1="368.1" y1="598.7" x2="383.3" y2="598.7" stroke="#ff0000" stroke-width="4"/>
<line x1="368.1" y1="627.2" x2="383.3" y2="627.2" stroke="#ff0000" stroke-width="4"/>
<rect x="366.5" y="603.7" width="18.4" height="18.4" fill="#fff" stroke="#ff0000" stroke-width="3.4"/>
<line x1="422.3" y1="575.8" x2="422.3" y2="605.1" stroke="#ff0000" stroke-width="3.6"/>
<line x1="414.7" y1="575.8" x2="429.9" y2="575.8" stroke="#ff0000" stroke-width="4"/>
<line x1="414.7" y1="605.1" x2="429.9" y2="605.1" stroke="#ff0000" stroke-width="4"/>
<rect x="413.1" y="581.3" width="18.4" height="18.4" fill="#fff" stroke="#ff0000" stroke-width="3.4"/>
<line x1="468.9" y1="551.4" x2="468.9" y2="581.7" stroke="#ff0000" stroke-width="3.6"/>
<line x1="461.3" y1="551.4" x2="476.5" y2="551.4" stroke="#ff0000" stroke-width="4"/>
<line x1="461.3" y1="581.7" x2="476.5" y2="581.7" stroke="#ff0000" stroke-width="4"/>
<rect x="459.7" y="557.4" width="18.4" height="18.4" fill="#fff" stroke="#ff0000" stroke-width="3.4"/>
<line x1="515.5" y1="463.8" x2="515.5" y2="490.4" stroke="#ff0000" stroke-width="3.6"/>
<line x1="507.9" y1="463.8" x2="523.1" y2="463.8" stroke="#ff0000" stroke-width="4"/>
<line x1="507.9" y1="490.4" x2="523.1" y2="490.4" stroke="#ff0000" stroke-width="4"/>
<rect x="506.3" y="467.9" width="18.4" height="18.4" fill="#fff" stroke="#ff0000" stroke-width="3.4"/>
<line x1="562.1" y1="358.7" x2="562.1" y2="404.6" stroke="#ff0000" stroke-width="3.6"/>
<line x1="554.5" y1="358.7" x2="569.7" y2="358.7" stroke="#ff0000" stroke-width="4"/>
<line x1="554.5" y1="404.6" x2="569.7" y2="404.6" stroke="#ff0000" stroke-width="4"/>
<rect x="552.9" y="372.4" width="18.4" height="18.4" fill="#fff" stroke="#ff0000" stroke-width="3.4"/>
<line x1="608.7" y1="387.6" x2="608.7" y2="434.4" stroke="#ff0000" stroke-width="3.6"/>
<line x1="601.1" y1="387.6" x2="616.3" y2="387.6" stroke="#ff0000" stroke-width="4"/>
<line x1="601.1" y1="434.4" x2="616.3" y2="434.4" stroke="#ff0000" stroke-width="4"/>
<rect x="599.5" y="401.8" width="18.4" height="18.4" fill="#fff" stroke="#ff0000" stroke-width="3.4"/>
<polyline points="96.1,625.8 142.7,625.8 189.3,625.6 235.9,624.6 282.5,625.2 329.1,624.4 375.7,616.2 422.3,584.2 468.9,562.5 515.5,501.4 562.1,450.5 608.7,439.9" fill="none" stroke="#336699" stroke-width="3.8"/>
<circle cx="96.1" cy="625.8" r="12.7" fill="#336699"/>
<circle cx="142.7" cy="625.8" r="12.7" fill="#336699"/>
<circle cx="189.3" cy="625.6" r="12.7" fill="#336699"/>
<circle cx="235.9" cy="624.6" r="12.7" fill="#336699"/>
<circle cx="282.5" cy="625.2" r="12.7" fill="#336699"/>
<circle cx="329.1" cy="624.4" r="12.7" fill="#336699"/>
<circle cx="375.7" cy="616.2" r="12.7" fill="#336699"/>
<circle cx="422.3" cy="584.2" r="12.7" fill="#336699"/>
<circle cx="468.9" cy="562.5" r="12.7" fill="#336699"/>
<circle cx="515.5" cy="501.4" r="12.7" fill="#336699"/>
<circle cx="562.1" cy="450.5" r="12.7" fill="#336699"/>
<circle cx="608.7" cy="439.9" r="12.7" fill="#336699"/>
</g>
<rect x="96" y="331.8" width="582.5" height="316.9" fill="none" stroke="#000" stroke-width="3"/>
<text transform="translate(-0.27,342.10) scale(1.0000,1)" font-family="Liberation Sans, sans-serif" font-size="36" font-weight="bold" fill="#000" >b</text>
<text transform="translate(31.00,599.77) rotate(-90) scale(1.0361,1)" font-family="Liberation Sans, sans-serif" font-size="25.3" fill="#000">Displacement (pm)</text>
<text transform="translate(285.60,540.20) scale(1.0699,1)" font-family="Liberation Sans, sans-serif" font-size="25" fill="#000" >SRO</text>
<text transform="translate(530.85,540.00) scale(1.0756,1)" font-family="Liberation Sans, sans-serif" font-size="25" fill="#000" >BFO</text>
<line x1="129.4" y1="383" x2="172" y2="383" stroke="#ff0000" stroke-width="3.6"/><rect x="145.35" y="377.65" width="10.7" height="10.7" fill="#fff" stroke="#ff0000" stroke-width="3.3"/>
<text transform="translate(184.02,392.10) scale(1.0414,1)" font-family="Liberation Sans, sans-serif" font-size="25" fill="#000" >Experiment</text>
<line x1="129.4" y1="417" x2="172" y2="417" stroke="#336699" stroke-width="3.6"/><circle cx="150.6" cy="417" r="7.3" fill="#336699"/>
<text transform="translate(184.79,423.30) scale(1.0451,1)" font-family="Liberation Sans, sans-serif" font-size="25" fill="#000" >Calculation</text>
<line x1="678.7" y1="1055.3" x2="678.7" y2="1050.3" stroke="#000" stroke-width="2"/>
<text transform="translate(678.70,1088.2) scale(1.05,1)" font-family="Liberation Sans, sans-serif" font-size="25" text-anchor="middle">0</text>
<line x1="647.5" y1="1055.3" x2="647.5" y2="1052.8" stroke="#000" stroke-width="2"/>
<line x1="616.3" y1="1055.3" x2="616.3" y2="1050.3" stroke="#000" stroke-width="2"/>
<text transform="translate(616.30,1088.2) scale(1.05,1)" font-family="Liberation Sans, sans-serif" font-size="25" text-anchor="middle">3</text>
<line x1="585.1" y1="1055.3" x2="585.1" y2="1052.8" stroke="#000" stroke-width="2"/>
<line x1="553.9" y1="1055.3" x2="553.9" y2="1050.3" stroke="#000" stroke-width="2"/>
<text transform="translate(553.90,1088.2) scale(1.05,1)" font-family="Liberation Sans, sans-serif" font-size="25" text-anchor="middle">6</text>
<line x1="522.7" y1="1055.3" x2="522.7" y2="1052.8" stroke="#000" stroke-width="2"/>
<line x1="491.5" y1="1055.3" x2="491.5" y2="1050.3" stroke="#000" stroke-width="2"/>
<text transform="translate(491.50,1088.2) scale(1.05,1)" font-family="Liberation Sans, sans-serif" font-size="25" text-anchor="middle">9</text>
<line x1="460.3" y1="1055.3" x2="460.3" y2="1052.8" stroke="#000" stroke-width="2"/>
<line x1="429.1" y1="1055.3" x2="429.1" y2="1050.3" stroke="#000" stroke-width="2"/>
<text transform="translate(429.10,1088.2) scale(1.05,1)" font-family="Liberation Sans, sans-serif" font-size="25" text-anchor="middle">12</text>
<line x1="397.9" y1="1055.3" x2="397.9" y2="1052.8" stroke="#000" stroke-width="2"/>
<line x1="366.7" y1="1055.3" x2="366.7" y2="1050.3" stroke="#000" stroke-width="2"/>
<text transform="translate(366.70,1088.2) scale(1.05,1)" font-family="Liberation Sans, sans-serif" font-size="25" text-anchor="middle">15</text>
<line x1="335.5" y1="1055.3" x2="335.5" y2="1052.8" stroke="#000" stroke-width="2"/>
<line x1="304.3" y1="1055.3" x2="304.3" y2="1050.3" stroke="#000" stroke-width="2"/>
<text transform="translate(304.30,1088.2) scale(1.05,1)" font-family="Liberation Sans, sans-serif" font-size="25" text-anchor="middle">18</text>
<line x1="273.1" y1="1055.3" x2="273.1" y2="1052.8" stroke="#000" stroke-width="2"/>
<line x1="241.9" y1="1055.3" x2="241.9" y2="1050.3" stroke="#000" stroke-width="2"/>
<text transform="translate(241.90,1088.2) scale(1.05,1)" font-family="Liberation Sans, sans-serif" font-size="25" text-anchor="middle">21</text>
<line x1="210.7" y1="1055.3" x2="210.7" y2="1052.8" stroke="#000" stroke-width="2"/>
<line x1="179.5" y1="1055.3" x2="179.5" y2="1050.3" stroke="#000" stroke-width="2"/>
<text transform="translate(179.50,1088.2) scale(1.05,1)" font-family="Liberation Sans, sans-serif" font-size="25" text-anchor="middle">24</text>
<line x1="148.3" y1="1055.3" x2="148.3" y2="1052.8" stroke="#000" stroke-width="2"/>
<line x1="117.1" y1="1055.3" x2="117.1" y2="1050.3" stroke="#000" stroke-width="2"/>
<text transform="translate(117.10,1088.2) scale(1.05,1)" font-family="Liberation Sans, sans-serif" font-size="25" text-anchor="middle">27</text>
<line x1="97.5" y1="1025.2" x2="102.5" y2="1025.2" stroke="#000" stroke-width="2.2"/>
<line x1="677.3" y1="1025.2" x2="672.3" y2="1025.2" stroke="#000" stroke-width="2.2"/>
<text transform="translate(84.2,1033.65) scale(1.05,1)" font-family="Liberation Sans, sans-serif" font-size="25" text-anchor="end">3.8</text>
<line x1="97.5" y1="992.8" x2="99.7" y2="992.8" stroke="#000" stroke-width="2.2"/>
<line x1="677.3" y1="992.8" x2="675.0999999999999" y2="992.8" stroke="#000" stroke-width="2.2"/>
<line x1="97.5" y1="960.4" x2="102.5" y2="960.4" stroke="#000" stroke-width="2.2"/>
<line x1="677.3" y1="960.4" x2="672.3" y2="960.4" stroke="#000" stroke-width="2.2"/>
<text transform="translate(84.2,968.90) scale(1.05,1)" font-family="Liberation Sans, sans-serif" font-size="25" text-anchor="end">3.9</text>
<line x1="97.5" y1="928.0" x2="99.7" y2="928.0" stroke="#000" stroke-width="2.2"/>
<line x1="677.3" y1="928.0" x2="675.0999999999999" y2="928.0" stroke="#000" stroke-width="2.2"/>
<line x1="97.5" y1="895.6" x2="102.5" y2="895.6" stroke="#000" stroke-width="2.2"/>
<line x1="677.3" y1="895.6" x2="672.3" y2="895.6" stroke="#000" stroke-width="2.2"/>
<text transform="translate(84.2,904.15) scale(1.05,1)" font-family="Liberation Sans, sans-serif" font-size="25" text-anchor="end">4.0</text>
<line x1="97.5" y1="863.3" x2="99.7" y2="863.3" stroke="#000" stroke-width="2.2"/>
<line x1="677.3" y1="863.3" x2="675.0999999999999" y2="863.3" stroke="#000" stroke-width="2.2"/>
<line x1="97.5" y1="830.9" x2="102.5" y2="830.9" stroke="#000" stroke-width="2.2"/>
<line x1="677.3" y1="830.9" x2="672.3" y2="830.9" stroke="#000" stroke-width="2.2"/>
<text transform="translate(84.2,839.40) scale(1.05,1)" font-family="Liberation Sans, sans-serif" font-size="25" text-anchor="end">4.1</text>
<line x1="97.5" y1="798.5" x2="99.7" y2="798.5" stroke="#000" stroke-width="2.2"/>
<line x1="677.3" y1="798.5" x2="675.0999999999999" y2="798.5" stroke="#000" stroke-width="2.2"/>
<line x1="97.5" y1="766.1" x2="102.5" y2="766.1" stroke="#000" stroke-width="2.2"/>
<line x1="677.3" y1="766.1" x2="672.3" y2="766.1" stroke="#000" stroke-width="2.2"/>
<text transform="translate(84.2,774.65) scale(1.05,1)" font-family="Liberation Sans, sans-serif" font-size="25" text-anchor="end">4.2</text>
<line x1="97.5" y1="733.8" x2="99.7" y2="733.8" stroke="#000" stroke-width="2.2"/>
<line x1="677.3" y1="733.8" x2="675.0999999999999" y2="733.8" stroke="#000" stroke-width="2.2"/>
<g clip-path="url(#cc)">
<polyline points="96.3,957.5 117.1,958.5 137.9,950.0 158.7,958.0 179.5,964.0 200.3,952.0 221.1,965.0 241.9,940.1 262.7,956.0 283.5,954.0 304.3,945.4 325.1,937.8 345.9,925.5 366.7,927.4 387.5,926.4 408.3,926.4 429.1,929.2 449.9,923.5 470.7,921.9 491.5,920.8 512.3,921.0 533.1,915.7 553.9,911.7 574.7,906.3 595.5,880.2 616.3,840.9 637.1,831.6 657.9,829.9" fill="none" stroke="#e60000" stroke-width="3.6"/>
<rect x="90.0" y="951.2" width="12.6" height="12.6" fill="#e60000"/>
<rect x="110.8" y="952.2" width="12.6" height="12.6" fill="#e60000"/>
<rect x="131.6" y="943.7" width="12.6" height="12.6" fill="#e60000"/>
<rect x="152.4" y="951.7" width="12.6" height="12.6" fill="#e60000"/>
<rect x="173.2" y="957.7" width="12.6" height="12.6" fill="#e60000"/>
<rect x="194.0" y="945.7" width="12.6" height="12.6" fill="#e60000"/>
<rect x="214.8" y="958.7" width="12.6" height="12.6" fill="#e60000"/>
<rect x="235.6" y="933.8" width="12.6" height="12.6" fill="#e60000"/>
<rect x="256.4" y="949.7" width="12.6" height="12.6" fill="#e60000"/>
<rect x="277.2" y="947.7" width="12.6" height="12.6" fill="#e60000"/>
<rect x="298.0" y="939.1" width="12.6" height="12.6" fill="#e60000"/>
<rect x="318.8" y="931.5" width="12.6" height="12.6" fill="#e60000"/>
<rect x="339.6" y="919.2" width="12.6" height="12.6" fill="#e60000"/>
<rect x="360.4" y="921.1" width="12.6" height="12.6" fill="#e60000"/>
<rect x="381.2" y="920.1" width="12.6" height="12.6" fill="#e60000"/>
<rect x="402.0" y="920.1" width="12.6" height="12.6" fill="#e60000"/>
<rect x="422.8" y="922.9" width="12.6" height="12.6" fill="#e60000"/>
<rect x="443.6" y="917.2" width="12.6" height="12.6" fill="#e60000"/>
<rect x="464.4" y="915.6" width="12.6" height="12.6" fill="#e60000"/>
<rect x="485.2" y="914.5" width="12.6" height="12.6" fill="#e60000"/>
<rect x="506.0" y="914.7" width="12.6" height="12.6" fill="#e60000"/>
<rect x="526.8" y="909.4" width="12.6" height="12.6" fill="#e60000"/>
<rect x="547.6" y="905.4" width="12.6" height="12.6" fill="#e60000"/>
<rect x="568.4" y="900.0" width="12.6" height="12.6" fill="#e60000"/>
<rect x="589.2" y="873.9" width="12.6" height="12.6" fill="#e60000"/>
<rect x="610.0" y="834.6" width="12.6" height="12.6" fill="#e60000"/>
<rect x="630.8" y="825.3" width="12.6" height="12.6" fill="#e60000"/>
<rect x="651.6" y="823.6" width="12.6" height="12.6" fill="#e60000"/>
<polyline points="96.3,964.7 117.1,969.8 137.9,947.0 158.7,973.5 179.5,968.7 200.3,952.5 221.1,974.2 241.9,971.5 262.7,953.0 283.5,967.4 304.3,935.6 325.1,943.5 345.9,926.4 366.7,924.1 387.5,926.4 408.3,935.4 429.1,933.3 449.9,930.8 470.7,926.9 491.5,924.2 512.3,916.0 533.1,913.8 553.9,912.4 574.7,901.2 595.5,881.3 616.3,848.6 637.1,840.4 657.9,828.8" fill="none" stroke="#336699" stroke-width="3.6"/>
<circle cx="96.3" cy="964.7" r="7.7" fill="#336699"/>
<circle cx="117.1" cy="969.8" r="7.7" fill="#336699"/>
<circle cx="137.9" cy="947.0" r="7.7" fill="#336699"/>
<circle cx="158.7" cy="973.5" r="7.7" fill="#336699"/>
<circle cx="179.5" cy="968.7" r="7.7" fill="#336699"/>
<circle cx="200.3" cy="952.5" r="7.7" fill="#336699"/>
<circle cx="221.1" cy="974.2" r="7.7" fill="#336699"/>
<circle cx="241.9" cy="971.5" r="7.7" fill="#336699"/>
<circle cx="262.7" cy="953.0" r="7.7" fill="#336699"/>
<circle cx="283.5" cy="967.4" r="7.7" fill="#336699"/>
<circle cx="304.3" cy="935.6" r="7.7" fill="#336699"/>
<circle cx="325.1" cy="943.5" r="7.7" fill="#336699"/>
<circle cx="345.9" cy="926.4" r="7.7" fill="#336699"/>
<circle cx="366.7" cy="924.1" r="7.7" fill="#336699"/>
<circle cx="387.5" cy="926.4" r="7.7" fill="#336699"/>
<circle cx="408.3" cy="935.4" r="7.7" fill="#336699"/>
<circle cx="429.1" cy="933.3" r="7.7" fill="#336699"/>
<circle cx="449.9" cy="930.8" r="7.7" fill="#336699"/>
<circle cx="470.7" cy="926.9" r="7.7" fill="#336699"/>
<circle cx="491.5" cy="924.2" r="7.7" fill="#336699"/>
<circle cx="512.3" cy="916.0" r="7.7" fill="#336699"/>
<circle cx="533.1" cy="913.8" r="7.7" fill="#336699"/>
<circle cx="553.9" cy="912.4" r="7.7" fill="#336699"/>
<circle cx="574.7" cy="901.2" r="7.7" fill="#336699"/>
<circle cx="595.5" cy="881.3" r="7.7" fill="#336699"/>
<circle cx="616.3" cy="848.6" r="7.7" fill="#336699"/>
<circle cx="637.1" cy="840.4" r="7.7" fill="#336699"/>
<circle cx="657.9" cy="828.8" r="7.7" fill="#336699"/>
<polyline points="96.3,958.0 117.1,958.0 137.9,958.0 158.7,958.0 179.5,958.0 200.3,958.0 221.1,958.0 241.9,958.0 262.7,958.0 283.5,958.0 304.3,958.0 325.1,958.0 345.9,958.0 366.7,958.0 387.5,958.0 408.3,958.0 429.1,958.0 449.9,958.0 470.7,958.0 491.5,958.0 512.3,958.0 533.1,958.0 553.9,958.0 574.7,958.0 595.5,958.0 616.3,958.0 637.1,952.6 657.9,958.0" fill="none" stroke="#ff8000" stroke-width="3"/>
<rect x="89.2" y="950.9" width="14.2" height="14.2" rx="3" fill="#ff8000"/>
<rect x="110.0" y="950.9" width="14.2" height="14.2" rx="3" fill="#ff8000"/>
<rect x="130.8" y="950.9" width="14.2" height="14.2" rx="3" fill="#ff8000"/>
<rect x="151.6" y="950.9" width="14.2" height="14.2" rx="3" fill="#ff8000"/>
<rect x="172.4" y="950.9" width="14.2" height="14.2" rx="3" fill="#ff8000"/>
<rect x="193.2" y="950.9" width="14.2" height="14.2" rx="3" fill="#ff8000"/>
<rect x="214.0" y="950.9" width="14.2" height="14.2" rx="3" fill="#ff8000"/>
<rect x="234.8" y="950.9" width="14.2" height="14.2" rx="3" fill="#ff8000"/>
<rect x="255.6" y="950.9" width="14.2" height="14.2" rx="3" fill="#ff8000"/>
<rect x="276.4" y="950.9" width="14.2" height="14.2" rx="3" fill="#ff8000"/>
<rect x="297.2" y="950.9" width="14.2" height="14.2" rx="3" fill="#ff8000"/>
<rect x="318.0" y="950.9" width="14.2" height="14.2" rx="3" fill="#ff8000"/>
<rect x="338.8" y="950.9" width="14.2" height="14.2" rx="3" fill="#ff8000"/>
<rect x="359.6" y="950.9" width="14.2" height="14.2" rx="3" fill="#ff8000"/>
<rect x="380.4" y="950.9" width="14.2" height="14.2" rx="3" fill="#ff8000"/>
<rect x="401.2" y="950.9" width="14.2" height="14.2" rx="3" fill="#ff8000"/>
<rect x="422.0" y="950.9" width="14.2" height="14.2" rx="3" fill="#ff8000"/>
<rect x="442.8" y="950.9" width="14.2" height="14.2" rx="3" fill="#ff8000"/>
<rect x="463.6" y="950.9" width="14.2" height="14.2" rx="3" fill="#ff8000"/>
<rect x="484.4" y="950.9" width="14.2" height="14.2" rx="3" fill="#ff8000"/>
<rect x="505.2" y="950.9" width="14.2" height="14.2" rx="3" fill="#ff8000"/>
<rect x="526.0" y="950.9" width="14.2" height="14.2" rx="3" fill="#ff8000"/>
<rect x="546.8" y="950.9" width="14.2" height="14.2" rx="3" fill="#ff8000"/>
<rect x="567.6" y="950.9" width="14.2" height="14.2" rx="3" fill="#ff8000"/>
<rect x="588.4" y="950.9" width="14.2" height="14.2" rx="3" fill="#ff8000"/>
<rect x="609.2" y="950.9" width="14.2" height="14.2" rx="3" fill="#ff8000"/>
<rect x="630.0" y="945.5" width="14.2" height="14.2" rx="3" fill="#ff8000"/>
<rect x="650.8" y="950.9" width="14.2" height="14.2" rx="3" fill="#ff8000"/>
<path d="M96.3,938.5V977.5M92.3,938.5H100.3M92.3,977.5H100.3" stroke="#ff8000" stroke-opacity="1" stroke-width="1.25" fill="none"/>
<path d="M117.1,938.5V977.5M113.1,938.5H121.1M113.1,977.5H121.1" stroke="#ff8000" stroke-opacity="1" stroke-width="1.25" fill="none"/>
<path d="M137.9,938.5V977.5M133.9,938.5H141.9M133.9,977.5H141.9" stroke="#ff8000" stroke-opacity="1" stroke-width="1.25" fill="none"/>
<path d="M158.7,938.5V977.5M154.7,938.5H162.7M154.7,977.5H162.7" stroke="#ff8000" stroke-opacity="1" stroke-width="1.25" fill="none"/>
<path d="M179.5,938.5V977.5M175.5,938.5H183.5M175.5,977.5H183.5" stroke="#ff8000" stroke-opacity="1" stroke-width="1.25" fill="none"/>
<path d="M200.3,938.5V977.5M196.3,938.5H204.3M196.3,977.5H204.3" stroke="#ff8000" stroke-opacity="1" stroke-width="1.25" fill="none"/>
<path d="M221.1,938.5V977.5M217.1,938.5H225.1M217.1,977.5H225.1" stroke="#ff8000" stroke-opacity="1" stroke-width="1.25" fill="none"/>
<path d="M241.9,938.5V977.5M237.9,938.5H245.9M237.9,977.5H245.9" stroke="#ff8000" stroke-opacity="1" stroke-width="1.25" fill="none"/>
<path d="M262.7,938.5V977.5M258.7,938.5H266.7M258.7,977.5H266.7" stroke="#ff8000" stroke-opacity="1" stroke-width="1.25" fill="none"/>
<path d="M283.5,938.5V977.5M279.5,938.5H287.5M279.5,977.5H287.5" stroke="#ff8000" stroke-opacity="1" stroke-width="1.25" fill="none"/>
<path d="M304.3,938.5V977.5M300.3,938.5H308.3M300.3,977.5H308.3" stroke="#ff8000" stroke-opacity="1" stroke-width="1.25" fill="none"/>
<path d="M325.1,938.5V977.5M321.1,938.5H329.1M321.1,977.5H329.1" stroke="#ff8000" stroke-opacity="1" stroke-width="1.25" fill="none"/>
<path d="M345.9,938.5V977.5M341.9,938.5H349.9M341.9,977.5H349.9" stroke="#ff8000" stroke-opacity="1" stroke-width="1.25" fill="none"/>
<path d="M366.7,938.5V977.5M362.7,938.5H370.7M362.7,977.5H370.7" stroke="#ff8000" stroke-opacity="1" stroke-width="1.25" fill="none"/>
<path d="M387.5,938.5V977.5M383.5,938.5H391.5M383.5,977.5H391.5" stroke="#ff8000" stroke-opacity="1" stroke-width="1.25" fill="none"/>
<path d="M408.3,938.5V977.5M404.3,938.5H412.3M404.3,977.5H412.3" stroke="#ff8000" stroke-opacity="1" stroke-width="1.25" fill="none"/>
<path d="M429.1,938.5V977.5M425.1,938.5H433.1M425.1,977.5H433.1" stroke="#ff8000" stroke-opacity="1" stroke-width="1.25" fill="none"/>
<path d="M449.9,938.5V977.5M445.9,938.5H453.9M445.9,977.5H453.9" stroke="#ff8000" stroke-opacity="1" stroke-width="1.25" fill="none"/>
<path d="M470.7,938.5V977.5M466.7,938.5H474.7M466.7,977.5H474.7" stroke="#ff8000" stroke-opacity="1" stroke-width="1.25" fill="none"/>
<path d="M491.5,938.5V977.5M487.5,938.5H495.5M487.5,977.5H495.5" stroke="#ff8000" stroke-opacity="1" stroke-width="1.25" fill="none"/>
<path d="M512.3,938.5V977.5M508.3,938.5H516.3M508.3,977.5H516.3" stroke="#ff8000" stroke-opacity="1" stroke-width="1.25" fill="none"/>
<path d="M533.1,938.5V977.5M529.1,938.5H537.1M529.1,977.5H537.1" stroke="#ff8000" stroke-opacity="1" stroke-width="1.25" fill="none"/>
<path d="M553.9,938.5V977.5M549.9,938.5H557.9M549.9,977.5H557.9" stroke="#ff8000" stroke-opacity="1" stroke-width="1.25" fill="none"/>
<path d="M574.7,938.5V977.5M570.7,938.5H578.7M570.7,977.5H578.7" stroke="#ff8000" stroke-opacity="1" stroke-width="1.25" fill="none"/>
<path d="M595.5,938.5V977.5M591.5,938.5H599.5M591.5,977.5H599.5" stroke="#ff8000" stroke-opacity="1" stroke-width="1.25" fill="none"/>
<path d="M616.3,938.5V977.5M612.3,938.5H620.3M612.3,977.5H620.3" stroke="#ff8000" stroke-opacity="1" stroke-width="1.25" fill="none"/>
<path d="M637.1,933.1V972.1M633.1,933.1H641.1M633.1,972.1H641.1" stroke="#ff8000" stroke-opacity="1" stroke-width="1.25" fill="none"/>
<path d="M657.9,938.5V977.5M653.9,938.5H661.9M653.9,977.5H661.9" stroke="#ff8000" stroke-opacity="1" stroke-width="1.25" fill="none"/>
<path d="M96.3,938.0V977.0M92.3,938.0H100.3M92.3,977.0H100.3" stroke="#e60000" stroke-opacity="1" stroke-width="1.25" fill="none"/>
<path d="M117.1,939.0V978.0M113.1,939.0H121.1M113.1,978.0H121.1" stroke="#e60000" stroke-opacity="1" stroke-width="1.25" fill="none"/>
<path d="M137.9,930.5V969.5M133.9,930.5H141.9M133.9,969.5H141.9" stroke="#e60000" stroke-opacity="1" stroke-width="1.25" fill="none"/>
<path d="M158.7,938.5V977.5M154.7,938.5H162.7M154.7,977.5H162.7" stroke="#e60000" stroke-opacity="1" stroke-width="1.25" fill="none"/>
<path d="M179.5,944.5V983.5M175.5,944.5H183.5M175.5,983.5H183.5" stroke="#e60000" stroke-opacity="1" stroke-width="1.25" fill="none"/>
<path d="M200.3,932.5V971.5M196.3,932.5H204.3M196.3,971.5H204.3" stroke="#e60000" stroke-opacity="1" stroke-width="1.25" fill="none"/>
<path d="M221.1,945.5V984.5M217.1,945.5H225.1M217.1,984.5H225.1" stroke="#e60000" stroke-opacity="1" stroke-width="1.25" fill="none"/>
<path d="M241.9,920.6V959.6M237.9,920.6H245.9M237.9,959.6H245.9" stroke="#e60000" stroke-opacity="1" stroke-width="1.25" fill="none"/>
<path d="M262.7,936.5V975.5M258.7,936.5H266.7M258.7,975.5H266.7" stroke="#e60000" stroke-opacity="1" stroke-width="1.25" fill="none"/>
<path d="M283.5,934.5V973.5M279.5,934.5H287.5M279.5,973.5H287.5" stroke="#e60000" stroke-opacity="1" stroke-width="1.25" fill="none"/>
<path d="M304.3,925.9V964.9M300.3,925.9H308.3M300.3,964.9H308.3" stroke="#e60000" stroke-opacity="1" stroke-width="1.25" fill="none"/>
<path d="M325.1,918.3V957.3M321.1,918.3H329.1M321.1,957.3H329.1" stroke="#e60000" stroke-opacity="1" stroke-width="1.25" fill="none"/>
<path d="M345.9,906.0V945.0M341.9,906.0H349.9M341.9,945.0H349.9" stroke="#e60000" stroke-opacity="1" stroke-width="1.25" fill="none"/>
<path d="M366.7,907.9V946.9M362.7,907.9H370.7M362.7,946.9H370.7" stroke="#e60000" stroke-opacity="1" stroke-width="1.25" fill="none"/>
<path d="M387.5,906.9V945.9M383.5,906.9H391.5M383.5,945.9H391.5" stroke="#e60000" stroke-opacity="1" stroke-width="1.25" fill="none"/>
<path d="M408.3,906.9V945.9M404.3,906.9H412.3M404.3,945.9H412.3" stroke="#e60000" stroke-opacity="1" stroke-width="1.25" fill="none"/>
<path d="M429.1,909.7V948.7M425.1,909.7H433.1M425.1,948.7H433.1" stroke="#e60000" stroke-opacity="1" stroke-width="1.25" fill="none"/>
<path d="M449.9,904.0V943.0M445.9,904.0H453.9M445.9,943.0H453.9" stroke="#e60000" stroke-opacity="1" stroke-width="1.25" fill="none"/>
<path d="M470.7,902.4V941.4M466.7,902.4H474.7M466.7,941.4H474.7" stroke="#e60000" stroke-opacity="1" stroke-width="1.25" fill="none"/>
<path d="M491.5,901.3V940.3M487.5,901.3H495.5M487.5,940.3H495.5" stroke="#e60000" stroke-opacity="1" stroke-width="1.25" fill="none"/>
<path d="M512.3,901.5V940.5M508.3,901.5H516.3M508.3,940.5H516.3" stroke="#e60000" stroke-opacity="1" stroke-width="1.25" fill="none"/>
<path d="M533.1,896.2V935.2M529.1,896.2H537.1M529.1,935.2H537.1" stroke="#e60000" stroke-opacity="1" stroke-width="1.25" fill="none"/>
<path d="M553.9,892.2V931.2M549.9,892.2H557.9M549.9,931.2H557.9" stroke="#e60000" stroke-opacity="1" stroke-width="1.25" fill="none"/>
<path d="M574.7,886.8V925.8M570.7,886.8H578.7M570.7,925.8H578.7" stroke="#e60000" stroke-opacity="1" stroke-width="1.25" fill="none"/>
<path d="M595.5,860.7V899.7M591.5,860.7H599.5M591.5,899.7H599.5" stroke="#e60000" stroke-opacity="1" stroke-width="1.25" fill="none"/>
<path d="M616.3,821.4V860.4M612.3,821.4H620.3M612.3,860.4H620.3" stroke="#e60000" stroke-opacity="1" stroke-width="1.25" fill="none"/>
<path d="M637.1,812.1V851.1M633.1,812.1H641.1M633.1,851.1H641.1" stroke="#e60000" stroke-opacity="1" stroke-width="1.25" fill="none"/>
<path d="M657.9,810.4V849.4M653.9,810.4H661.9M653.9,849.4H661.9" stroke="#e60000" stroke-opacity="1" stroke-width="1.25" fill="none"/>
<path d="M96.3,945.2V984.2M92.3,945.2H100.3M92.3,984.2H100.3" stroke="#336699" stroke-opacity="1" stroke-width="1.25" fill="none"/>
<path d="M117.1,950.3V989.3M113.1,950.3H121.1M113.1,989.3H121.1" stroke="#336699" stroke-opacity="1" stroke-width="1.25" fill="none"/>
<path d="M137.9,927.5V966.5M133.9,927.5H141.9M133.9,966.5H141.9" stroke="#336699" stroke-opacity="1" stroke-width="1.25" fill="none"/>
<path d="M158.7,954.0V993.0M154.7,954.0H162.7M154.7,993.0H162.7" stroke="#336699" stroke-opacity="1" stroke-width="1.25" fill="none"/>
<path d="M179.5,949.2V988.2M175.5,949.2H183.5M175.5,988.2H183.5" stroke="#336699" stroke-opacity="1" stroke-width="1.25" fill="none"/>
<path d="M200.3,933.0V972.0M196.3,933.0H204.3M196.3,972.0H204.3" stroke="#336699" stroke-opacity="1" stroke-width="1.25" fill="none"/>
<path d="M221.1,954.7V993.7M217.1,954.7H225.1M217.1,993.7H225.1" stroke="#336699" stroke-opacity="1" stroke-width="1.25" fill="none"/>
<path d="M241.9,952.0V991.0M237.9,952.0H245.9M237.9,991.0H245.9" stroke="#336699" stroke-opacity="1" stroke-width="1.25" fill="none"/>
<path d="M262.7,933.5V972.5M258.7,933.5H266.7M258.7,972.5H266.7" stroke="#336699" stroke-opacity="1" stroke-width="1.25" fill="none"/>
<path d="M283.5,947.9V986.9M279.5,947.9H287.5M279.5,986.9H287.5" stroke="#336699" stroke-opacity="1" stroke-width="1.25" fill="none"/>
<path d="M304.3,916.1V955.1M300.3,916.1H308.3M300.3,955.1H308.3" stroke="#336699" stroke-opacity="1" stroke-width="1.25" fill="none"/>
<path d="M325.1,924.0V963.0M321.1,924.0H329.1M321.1,963.0H329.1" stroke="#336699" stroke-opacity="1" stroke-width="1.25" fill="none"/>
<path d="M345.9,906.9V945.9M341.9,906.9H349.9M341.9,945.9H349.9" stroke="#336699" stroke-opacity="1" stroke-width="1.25" fill="none"/>
<path d="M366.7,904.6V943.6M362.7,904.6H370.7M362.7,943.6H370.7" stroke="#336699" stroke-opacity="1" stroke-width="1.25" fill="none"/>
<path d="M387.5,906.9V945.9M383.5,906.9H391.5M383.5,945.9H391.5" stroke="#336699" stroke-opacity="1" stroke-width="1.25" fill="none"/>
<path d="M408.3,915.9V954.9M404.3,915.9H412.3M404.3,954.9H412.3" stroke="#336699" stroke-opacity="1" stroke-width="1.25" fill="none"/>
<path d="M429.1,913.8V952.8M425.1,913.8H433.1M425.1,952.8H433.1" stroke="#336699" stroke-opacity="1" stroke-width="1.25" fill="none"/>
<path d="M449.9,911.3V950.3M445.9,911.3H453.9M445.9,950.3H453.9" stroke="#336699" stroke-opacity="1" stroke-width="1.25" fill="none"/>
<path d="M470.7,907.4V946.4M466.7,907.4H474.7M466.7,946.4H474.7" stroke="#336699" stroke-opacity="1" stroke-width="1.25" fill="none"/>
<path d="M491.5,904.7V943.7M487.5,904.7H495.5M487.5,943.7H495.5" stroke="#336699" stroke-opacity="1" stroke-width="1.25" fill="none"/>
<path d="M512.3,896.5V935.5M508.3,896.5H516.3M508.3,935.5H516.3" stroke="#336699" stroke-opacity="1" stroke-width="1.25" fill="none"/>
<path d="M533.1,894.3V933.3M529.1,894.3H537.1M529.1,933.3H537.1" stroke="#336699" stroke-opacity="1" stroke-width="1.25" fill="none"/>
<path d="M553.9,892.9V931.9M549.9,892.9H557.9M549.9,931.9H557.9" stroke="#336699" stroke-opacity="1" stroke-width="1.25" fill="none"/>
<path d="M574.7,881.7V920.7M570.7,881.7H578.7M570.7,920.7H578.7" stroke="#336699" stroke-opacity="1" stroke-width="1.25" fill="none"/>
<path d="M595.5,861.8V900.8M591.5,861.8H599.5M591.5,900.8H599.5" stroke="#336699" stroke-opacity="1" stroke-width="1.25" fill="none"/>
<path d="M616.3,829.1V868.1M612.3,829.1H620.3M612.3,868.1H620.3" stroke="#336699" stroke-opacity="1" stroke-width="1.25" fill="none"/>
<path d="M637.1,820.9V859.9M633.1,820.9H641.1M633.1,859.9H641.1" stroke="#336699" stroke-opacity="1" stroke-width="1.25" fill="none"/>
<path d="M657.9,809.3V848.3M653.9,809.3H661.9M653.9,848.3H661.9" stroke="#336699" stroke-opacity="1" stroke-width="1.25" fill="none"/>
<path d="M96.3,938.5V977.5M92.3,938.5H100.3M92.3,977.5H100.3" stroke="#33aa55" stroke-opacity="1" stroke-width="1.25" fill="none"/>
<path d="M117.1,938.5V977.5M113.1,938.5H121.1M113.1,977.5H121.1" stroke="#33aa55" stroke-opacity="1" stroke-width="1.25" fill="none"/>
<path d="M137.9,938.5V977.5M133.9,938.5H141.9M133.9,977.5H141.9" stroke="#33aa55" stroke-opacity="1" stroke-width="1.25" fill="none"/>
<path d="M158.7,938.5V977.5M154.7,938.5H162.7M154.7,977.5H162.7" stroke="#33aa55" stroke-opacity="1" stroke-width="1.25" fill="none"/>
<path d="M179.5,938.5V977.5M175.5,938.5H183.5M175.5,977.5H183.5" stroke="#33aa55" stroke-opacity="1" stroke-width="1.25" fill="none"/>
<path d="M200.3,938.5V977.5M196.3,938.5H204.3M196.3,977.5H204.3" stroke="#33aa55" stroke-opacity="1" stroke-width="1.25" fill="none"/>
<path d="M221.1,938.5V977.5M217.1,938.5H225.1M217.1,977.5H225.1" stroke="#33aa55" stroke-opacity="1" stroke-width="1.25" fill="none"/>
<path d="M241.9,938.5V977.5M237.9,938.5H245.9M237.9,977.5H245.9" stroke="#33aa55" stroke-opacity="1" stroke-width="1.25" fill="none"/>
<path d="M262.7,938.5V977.5M258.7,938.5H266.7M258.7,977.5H266.7" stroke="#33aa55" stroke-opacity="1" stroke-width="1.25" fill="none"/>
<path d="M283.5,938.5V977.5M279.5,938.5H287.5M279.5,977.5H287.5" stroke="#33aa55" stroke-opacity="1" stroke-width="1.25" fill="none"/>
<path d="M304.3,938.5V977.5M300.3,938.5H308.3M300.3,977.5H308.3" stroke="#33aa55" stroke-opacity="1" stroke-width="1.25" fill="none"/>
<path d="M325.1,938.5V977.5M321.1,938.5H329.1M321.1,977.5H329.1" stroke="#33aa55" stroke-opacity="1" stroke-width="1.25" fill="none"/>
<path d="M345.9,938.5V977.5M341.9,938.5H349.9M341.9,977.5H349.9" stroke="#33aa55" stroke-opacity="1" stroke-width="1.25" fill="none"/>
<path d="M366.7,938.5V977.5M362.7,938.5H370.7M362.7,977.5H370.7" stroke="#33aa55" stroke-opacity="1" stroke-width="1.25" fill="none"/>
<path d="M387.5,938.5V977.5M383.5,938.5H391.5M383.5,977.5H391.5" stroke="#33aa55" stroke-opacity="1" stroke-width="1.25" fill="none"/>
<path d="M408.3,938.5V977.5M404.3,938.5H412.3M404.3,977.5H412.3" stroke="#33aa55" stroke-opacity="1" stroke-width="1.25" fill="none"/>
<path d="M429.1,938.5V977.5M425.1,938.5H433.1M425.1,977.5H433.1" stroke="#33aa55" stroke-opacity="1" stroke-width="1.25" fill="none"/>
<path d="M449.9,938.5V977.5M445.9,938.5H453.9M445.9,977.5H453.9" stroke="#33aa55" stroke-opacity="1" stroke-width="1.25" fill="none"/>
<path d="M470.7,938.5V977.5M466.7,938.5H474.7M466.7,977.5H474.7" stroke="#33aa55" stroke-opacity="1" stroke-width="1.25" fill="none"/>
<path d="M491.5,938.5V977.5M487.5,938.5H495.5M487.5,977.5H495.5" stroke="#33aa55" stroke-opacity="1" stroke-width="1.25" fill="none"/>
<path d="M512.3,938.5V977.5M508.3,938.5H516.3M508.3,977.5H516.3" stroke="#33aa55" stroke-opacity="1" stroke-width="1.25" fill="none"/>
<path d="M533.1,938.5V977.5M529.1,938.5H537.1M529.1,977.5H537.1" stroke="#33aa55" stroke-opacity="1" stroke-width="1.25" fill="none"/>
<path d="M553.9,938.5V977.5M549.9,938.5H557.9M549.9,977.5H557.9" stroke="#33aa55" stroke-opacity="1" stroke-width="1.25" fill="none"/>
<path d="M574.7,938.5V977.5M570.7,938.5H578.7M570.7,977.5H578.7" stroke="#33aa55" stroke-opacity="1" stroke-width="1.25" fill="none"/>
<path d="M595.5,938.5V977.5M591.5,938.5H599.5M591.5,977.5H599.5" stroke="#33aa55" stroke-opacity="1" stroke-width="1.25" fill="none"/>
<path d="M616.3,938.5V977.5M612.3,938.5H620.3M612.3,977.5H620.3" stroke="#33aa55" stroke-opacity="1" stroke-width="1.25" fill="none"/>
<path d="M637.1,938.5V977.5M633.1,938.5H641.1M633.1,977.5H641.1" stroke="#33aa55" stroke-opacity="1" stroke-width="1.25" fill="none"/>
<path d="M657.9,932.6V971.6M653.9,932.6H661.9M653.9,971.6H661.9" stroke="#33aa55" stroke-opacity="1" stroke-width="1.25" fill="none"/>
<polyline points="96.3,958.0 117.1,958.0 137.9,958.0 158.7,958.0 179.5,958.0 200.3,958.0 221.1,958.0 241.9,958.0 262.7,958.0 283.5,958.0 304.3,958.0 325.1,958.0 345.9,958.0 366.7,958.0 387.5,958.0 408.3,958.0 429.1,958.0 449.9,958.0 470.7,958.0 491.5,958.0 512.3,958.0 533.1,958.0 553.9,958.0 574.7,958.0 595.5,958.0 616.3,958.0 637.1,958.0 657.9,952.1" fill="none" stroke="#33aa55" stroke-width="3"/>
<circle cx="96.3" cy="958.0" r="5.1" fill="#fff" stroke="#33aa55" stroke-width="6"/>
<circle cx="117.1" cy="958.0" r="5.1" fill="#fff" stroke="#33aa55" stroke-width="6"/>
<circle cx="137.9" cy="958.0" r="5.1" fill="#fff" stroke="#33aa55" stroke-width="6"/>
<circle cx="158.7" cy="958.0" r="5.1" fill="#fff" stroke="#33aa55" stroke-width="6"/>
<circle cx="179.5" cy="958.0" r="5.1" fill="#fff" stroke="#33aa55" stroke-width="6"/>
<circle cx="200.3" cy="958.0" r="5.1" fill="#fff" stroke="#33aa55" stroke-width="6"/>
<circle cx="221.1" cy="958.0" r="5.1" fill="#fff" stroke="#33aa55" stroke-width="6"/>
<circle cx="241.9" cy="958.0" r="5.1" fill="#fff" stroke="#33aa55" stroke-width="6"/>
<circle cx="262.7" cy="958.0" r="5.1" fill="#fff" stroke="#33aa55" stroke-width="6"/>
<circle cx="283.5" cy="958.0" r="5.1" fill="#fff" stroke="#33aa55" stroke-width="6"/>
<circle cx="304.3" cy="958.0" r="5.1" fill="#fff" stroke="#33aa55" stroke-width="6"/>
<circle cx="325.1" cy="958.0" r="5.1" fill="#fff" stroke="#33aa55" stroke-width="6"/>
<circle cx="345.9" cy="958.0" r="5.1" fill="#fff" stroke="#33aa55" stroke-width="6"/>
<circle cx="366.7" cy="958.0" r="5.1" fill="#fff" stroke="#33aa55" stroke-width="6"/>
<circle cx="387.5" cy="958.0" r="5.1" fill="#fff" stroke="#33aa55" stroke-width="6"/>
<circle cx="408.3" cy="958.0" r="5.1" fill="#fff" stroke="#33aa55" stroke-width="6"/>
<circle cx="429.1" cy="958.0" r="5.1" fill="#fff" stroke="#33aa55" stroke-width="6"/>
<circle cx="449.9" cy="958.0" r="5.1" fill="#fff" stroke="#33aa55" stroke-width="6"/>
<circle cx="470.7" cy="958.0" r="5.1" fill="#fff" stroke="#33aa55" stroke-width="6"/>
<circle cx="491.5" cy="958.0" r="5.1" fill="#fff" stroke="#33aa55" stroke-width="6"/>
<circle cx="512.3" cy="958.0" r="5.1" fill="#fff" stroke="#33aa55" stroke-width="6"/>
<circle cx="533.1" cy="958.0" r="5.1" fill="#fff" stroke="#33aa55" stroke-width="6"/>
<circle cx="553.9" cy="958.0" r="5.1" fill="#fff" stroke="#33aa55" stroke-width="6"/>
<circle cx="574.7" cy="958.0" r="5.1" fill="#fff" stroke="#33aa55" stroke-width="6"/>
<circle cx="595.5" cy="958.0" r="5.1" fill="#fff" stroke="#33aa55" stroke-width="6"/>
<circle cx="616.3" cy="958.0" r="5.1" fill="#fff" stroke="#33aa55" stroke-width="6"/>
<circle cx="637.1" cy="958.0" r="5.1" fill="#fff" stroke="#33aa55" stroke-width="6"/>
<circle cx="657.9" cy="952.1" r="5.1" fill="#fff" stroke="#33aa55" stroke-width="6"/>
</g>
<line x1="293.9" y1="735" x2="293.9" y2="1056" stroke="#000" stroke-width="2.3" stroke-dasharray="4.5 7.15"/>
<line x1="605" y1="735" x2="605" y2="1056" stroke="#000" stroke-width="2.3" stroke-dasharray="4.5 7.15"/>
<rect x="96" y="734" width="582.8" height="322.8" fill="none" stroke="#000" stroke-width="3"/>
<text transform="translate(0.43,738.00) scale(1.0000,1)" font-family="Liberation Sans, sans-serif" font-size="35" font-weight="bold" fill="#000" >c</text>
<text transform="translate(24.3,1027.4) rotate(-90)" font-family="Liberation Sans, sans-serif" font-size="26" textLength="266" lengthAdjust="spacing"><tspan font-style="italic">a</tspan>, <tspan font-style="italic">c</tspan> lattice constant (Å)</text>
<text transform="translate(223.01,1126.10) scale(1.0471,1)" font-family="Liberation Sans, sans-serif" font-size="25" fill="#000" >Distance from surface (u. c.)</text>
<text transform="translate(165.99,1021.20) scale(1.0797,1)" font-family="Liberation Sans, sans-serif" font-size="25" fill="#000" >STO</text>
<text transform="translate(417.50,1021.00) scale(1.0660,1)" font-family="Liberation Sans, sans-serif" font-size="25" fill="#000" >SRO</text>
<text transform="translate(613.37,1021.00) scale(1.0674,1)" font-family="Liberation Sans, sans-serif" font-size="25" fill="#000" >BFO</text>
<line x1="148.4" y1="767" x2="193" y2="767" stroke="#e60000" stroke-width="2.8"/>
<rect x="164.1" y="760.4" width="12.8" height="13.3" fill="#e60000"/>
<text transform="translate(199.93,773.40) scale(1.0000,1)" font-family="Liberation Sans, sans-serif" font-size="26" font-style="italic" fill="#000" >c</text>
<text transform="translate(212.50,780.90) scale(0.9868,1)" font-family="Liberation Sans, sans-serif" font-size="18.5" fill="#000" >AA</text>
<line x1="148.4" y1="796.4" x2="193" y2="796.4" stroke="#336699" stroke-width="2.8"/>
<circle cx="170.5" cy="796.4" r="7.6" fill="#336699"/>
<text transform="translate(199.93,802.80) scale(1.0000,1)" font-family="Liberation Sans, sans-serif" font-size="26" font-style="italic" fill="#000" >c</text>
<text transform="translate(210.86,810.30) scale(1.0921,1)" font-family="Liberation Sans, sans-serif" font-size="18.5" fill="#000" >BB</text>
<line x1="148.4" y1="826.1" x2="193" y2="826.1" stroke="#ff8000" stroke-width="2.8"/>
<rect x="163.3" y="818.9" width="14.7" height="14.4" fill="#ff8000"/><rect x="169" y="824.6" width="3" height="3" fill="#fff"/>
<text transform="translate(200.18,832.50) scale(1.0000,1)" font-family="Liberation Sans, sans-serif" font-size="26" font-style="italic" fill="#000" >a</text>
<text transform="translate(214.20,840.00) scale(0.9868,1)" font-family="Liberation Sans, sans-serif" font-size="18.5" fill="#000" >AA</text>
<line x1="148.4" y1="855.8" x2="193" y2="855.8" stroke="#33aa55" stroke-width="2.8"/>
<circle cx="170.5" cy="855.8" r="5.0" fill="#fff" stroke="#33aa55" stroke-width="5.6"/>
<text transform="translate(200.18,862.20) scale(1.0000,1)" font-family="Liberation Sans, sans-serif" font-size="26" font-style="italic" fill="#000" >a</text>
<text transform="translate(212.56,869.70) scale(1.0921,1)" font-family="Liberation Sans, sans-serif" font-size="18.5" fill="#000" >BB</text>
</svg></body></html>
